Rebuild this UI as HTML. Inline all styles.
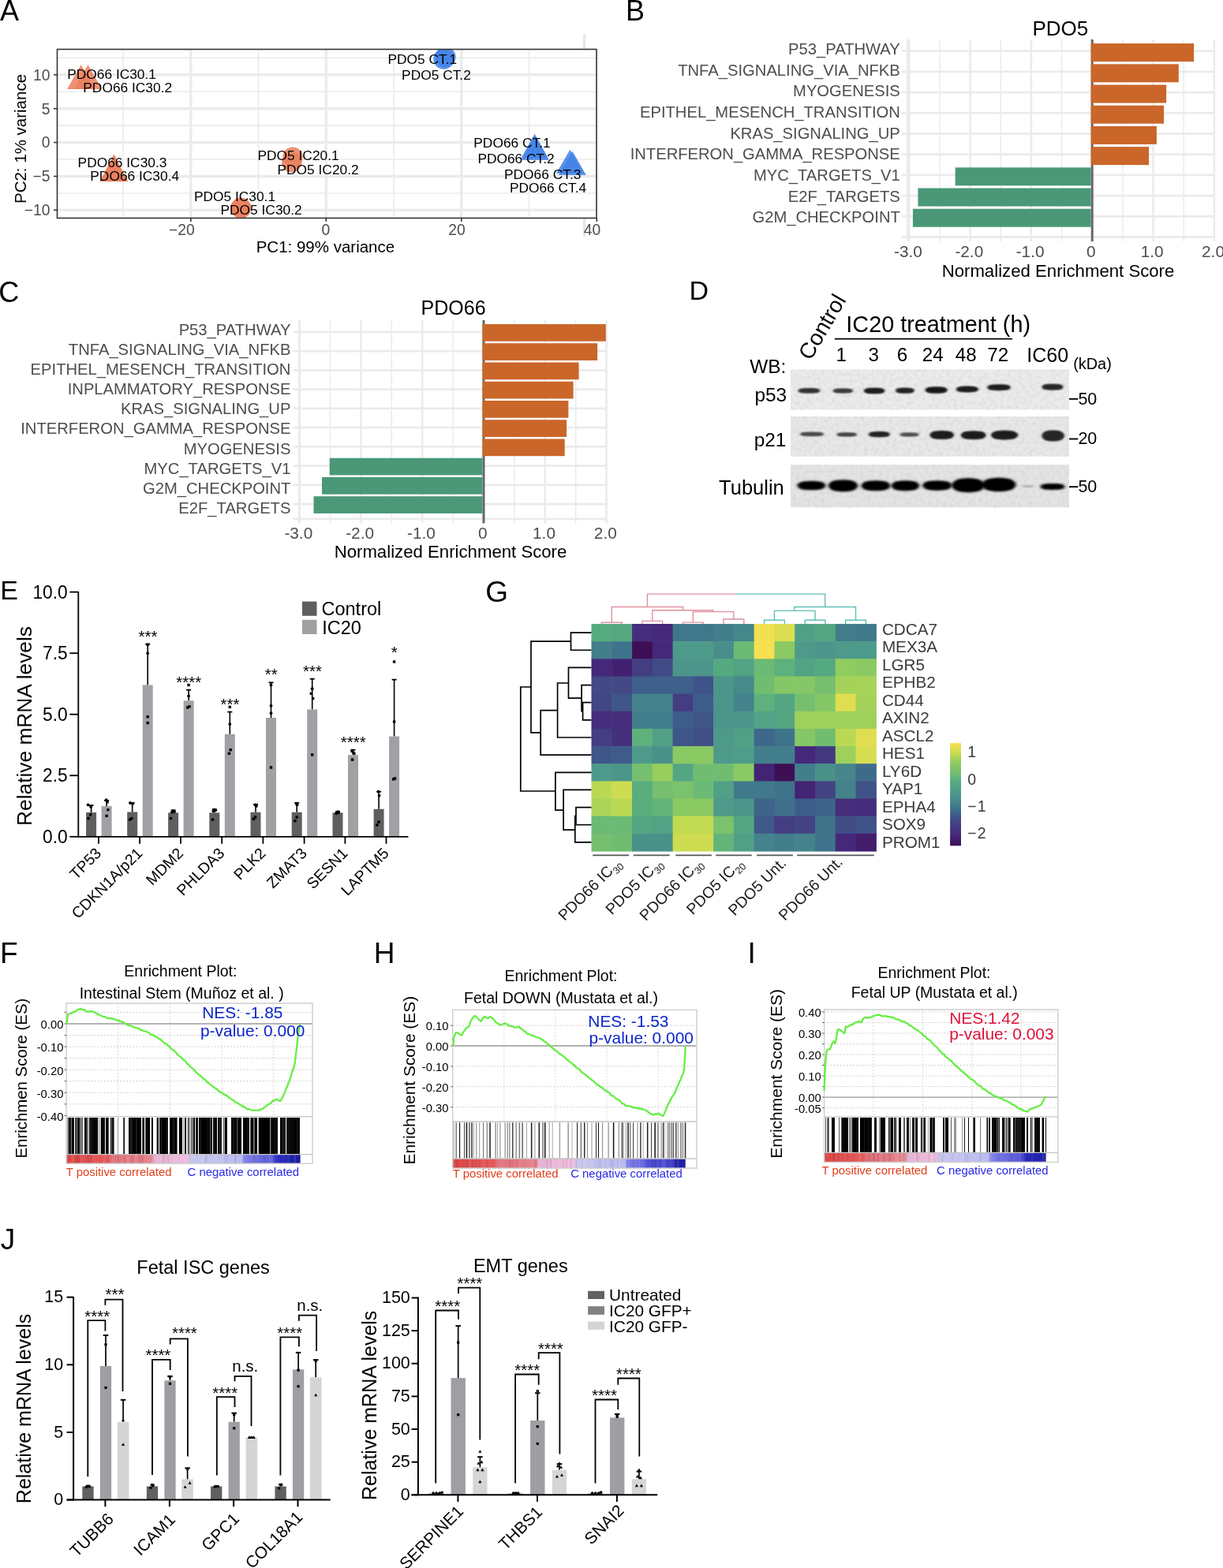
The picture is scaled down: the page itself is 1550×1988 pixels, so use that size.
<!DOCTYPE html>
<html><head><meta charset="utf-8"><title>Figure</title>
<style>html,body{margin:0;padding:0;background:#fff;}svg{display:block;}
text{font-family:"Liberation Sans", Arial, Helvetica, sans-serif;}</style></head>
<body><svg width="1550" height="1988" viewBox="0 0 1550 1988">
<rect x="0" y="0" width="1550" height="1988" fill="#fff"/>
<rect x="739.00" y="43.00" width="3.20" height="257.00" fill="#e6e6e6"/>
<rect x="72.50" y="62.50" width="683.50" height="214.00" fill="#fff"/>
<line x1="156.05" y1="62.50" x2="156.05" y2="276.50" stroke="#ebebeb" stroke-width="1.6"/>
<line x1="327.55" y1="62.50" x2="327.55" y2="276.50" stroke="#ebebeb" stroke-width="1.6"/>
<line x1="499.05" y1="62.50" x2="499.05" y2="276.50" stroke="#ebebeb" stroke-width="1.6"/>
<line x1="670.55" y1="62.50" x2="670.55" y2="276.50" stroke="#ebebeb" stroke-width="1.6"/>
<line x1="72.50" y1="244.95" x2="756.00" y2="244.95" stroke="#ebebeb" stroke-width="1.6"/>
<line x1="72.50" y1="202.05" x2="756.00" y2="202.05" stroke="#ebebeb" stroke-width="1.6"/>
<line x1="72.50" y1="159.15" x2="756.00" y2="159.15" stroke="#ebebeb" stroke-width="1.6"/>
<line x1="72.50" y1="116.25" x2="756.00" y2="116.25" stroke="#ebebeb" stroke-width="1.6"/>
<line x1="72.50" y1="73.35" x2="756.00" y2="73.35" stroke="#ebebeb" stroke-width="1.6"/>
<line x1="241.80" y1="62.50" x2="241.80" y2="276.50" stroke="#ebebeb" stroke-width="3.4"/>
<line x1="413.30" y1="62.50" x2="413.30" y2="276.50" stroke="#ebebeb" stroke-width="3.4"/>
<line x1="584.80" y1="62.50" x2="584.80" y2="276.50" stroke="#ebebeb" stroke-width="3.4"/>
<line x1="72.50" y1="266.40" x2="756.00" y2="266.40" stroke="#ebebeb" stroke-width="3.4"/>
<line x1="72.50" y1="223.50" x2="756.00" y2="223.50" stroke="#ebebeb" stroke-width="3.4"/>
<line x1="72.50" y1="180.60" x2="756.00" y2="180.60" stroke="#ebebeb" stroke-width="3.4"/>
<line x1="72.50" y1="137.70" x2="756.00" y2="137.70" stroke="#ebebeb" stroke-width="3.4"/>
<line x1="72.50" y1="94.80" x2="756.00" y2="94.80" stroke="#ebebeb" stroke-width="3.4"/>
<defs><clipPath id="clipA"><rect x="72.50" y="62.50" width="683.50" height="214.00"/></clipPath></defs><g clip-path="url(#clipA)">
<polyline points="102.70,82.00 85.00,113.00 120.40,113.00 102.70,82.00" fill="#ea7f5c" stroke="none" stroke-width="1" fill-opacity="0.85"/>
<polyline points="111.50,82.00 93.80,113.00 129.20,113.00 111.50,82.00" fill="#ea7f5c" stroke="none" stroke-width="1" fill-opacity="0.85"/>
<polyline points="144.20,195.40 126.60,230.20 161.80,230.20 144.20,195.40" fill="#ea7f5c" stroke="none" stroke-width="1" fill-opacity="0.85"/>
<polyline points="144.80,196.60 127.30,230.00 162.30,230.00 144.80,196.60" fill="#ea7f5c" stroke="none" stroke-width="1" fill-opacity="0.85"/>
<circle cx="305.10" cy="263.60" r="12.85" fill="#ea7f5c" fill-opacity="0.85"/>
<circle cx="305.50" cy="263.80" r="12.85" fill="#ea7f5c" fill-opacity="0.85"/>
<circle cx="371.00" cy="199.30" r="12.80" fill="#ea7f5c" fill-opacity="0.85"/>
<circle cx="369.80" cy="205.60" r="12.80" fill="#ea7f5c" fill-opacity="0.85"/>
<circle cx="562.30" cy="74.80" r="13.00" fill="#4283e6" fill-opacity="0.85"/>
<circle cx="564.60" cy="72.30" r="13.00" fill="#4283e6" fill-opacity="0.85"/>
<polyline points="677.60,169.80 660.20,200.80 695.00,200.80 677.60,169.80" fill="#4283e6" stroke="none" stroke-width="1" fill-opacity="0.85"/>
<polyline points="678.20,171.80 660.80,202.90 695.60,202.90 678.20,171.80" fill="#4283e6" stroke="none" stroke-width="1" fill-opacity="0.85"/>
<polyline points="722.40,189.70 704.80,220.00 740.00,220.00 722.40,189.70" fill="#4283e6" stroke="none" stroke-width="1" fill-opacity="0.85"/>
<polyline points="725.40,191.60 707.90,221.90 742.90,221.90 725.40,191.60" fill="#4283e6" stroke="none" stroke-width="1" fill-opacity="0.85"/>
</g>
<text x="85.20" y="99.60" font-size="17.35">PDO66 IC30.1</text>
<text x="105.30" y="117.40" font-size="17.35">PDO66 IC30.2</text>
<text x="98.60" y="211.90" font-size="17.35">PDO66 IC30.3</text>
<text x="114.30" y="228.70" font-size="17.35">PDO66 IC30.4</text>
<text x="245.90" y="255.30" font-size="17.35">PDO5 IC30.1</text>
<text x="279.50" y="271.80" font-size="17.35">PDO5 IC30.2</text>
<text x="326.50" y="203.00" font-size="17.35">PDO5 IC20.1</text>
<text x="351.50" y="221.00" font-size="17.35">PDO5 IC20.2</text>
<text x="491.40" y="80.50" font-size="17.35">PDO5 CT.1</text>
<text x="509.10" y="100.80" font-size="17.35">PDO5 CT.2</text>
<text x="600.30" y="187.10" font-size="17.35">PDO66 CT.1</text>
<text x="605.40" y="206.70" font-size="17.35">PDO66 CT.2</text>
<text x="639.00" y="226.80" font-size="17.35">PDO66 CT.3</text>
<text x="645.90" y="244.20" font-size="17.35">PDO66 CT.4</text>
<rect x="72.50" y="62.50" width="683.50" height="214.00" fill="none" stroke="#333" stroke-width="1.6"/>
<line x1="68.00" y1="266.40" x2="72.50" y2="266.40" stroke="#333" stroke-width="1.6"/>
<text x="63.50" y="273.20" font-size="19.3" text-anchor="end" fill="#4d4d4d">−10</text>
<line x1="68.00" y1="223.50" x2="72.50" y2="223.50" stroke="#333" stroke-width="1.6"/>
<text x="63.50" y="230.30" font-size="19.3" text-anchor="end" fill="#4d4d4d">−5</text>
<line x1="68.00" y1="180.60" x2="72.50" y2="180.60" stroke="#333" stroke-width="1.6"/>
<text x="63.50" y="187.40" font-size="19.3" text-anchor="end" fill="#4d4d4d">0</text>
<line x1="68.00" y1="137.70" x2="72.50" y2="137.70" stroke="#333" stroke-width="1.6"/>
<text x="63.50" y="144.50" font-size="19.3" text-anchor="end" fill="#4d4d4d">5</text>
<line x1="68.00" y1="94.80" x2="72.50" y2="94.80" stroke="#333" stroke-width="1.6"/>
<text x="63.50" y="101.60" font-size="19.3" text-anchor="end" fill="#4d4d4d">10</text>
<line x1="241.80" y1="276.50" x2="241.80" y2="281.00" stroke="#333" stroke-width="1.6"/>
<text x="246.80" y="298.10" font-size="19.3" text-anchor="end" fill="#4d4d4d">−20</text>
<line x1="413.30" y1="276.50" x2="413.30" y2="281.00" stroke="#333" stroke-width="1.6"/>
<text x="418.30" y="298.10" font-size="19.3" text-anchor="end" fill="#4d4d4d">0</text>
<line x1="584.80" y1="276.50" x2="584.80" y2="281.00" stroke="#333" stroke-width="1.6"/>
<text x="589.80" y="298.10" font-size="19.3" text-anchor="end" fill="#4d4d4d">20</text>
<line x1="756.30" y1="276.50" x2="756.30" y2="281.00" stroke="#333" stroke-width="1.6"/>
<text x="761.30" y="298.10" font-size="19.3" text-anchor="end" fill="#4d4d4d">40</text>
<text x="412.40" y="319.80" font-size="20.5" text-anchor="middle">PC1: 99% variance</text>
<text x="33.40" y="176.00" font-size="20.5" text-anchor="middle" transform="rotate(-90 33.40 176.00)">PC2: 1% variance</text>
<text x="0.00" y="25.70" font-size="36">A</text>
<line x1="1190.95" y1="50.00" x2="1190.95" y2="306.00" stroke="#ebebeb" stroke-width="1.5"/>
<line x1="1268.25" y1="50.00" x2="1268.25" y2="306.00" stroke="#ebebeb" stroke-width="1.5"/>
<line x1="1345.55" y1="50.00" x2="1345.55" y2="306.00" stroke="#ebebeb" stroke-width="1.5"/>
<line x1="1422.85" y1="50.00" x2="1422.85" y2="306.00" stroke="#ebebeb" stroke-width="1.5"/>
<line x1="1500.15" y1="50.00" x2="1500.15" y2="306.00" stroke="#ebebeb" stroke-width="1.5"/>
<line x1="1152.30" y1="50.00" x2="1152.30" y2="306.00" stroke="#ebebeb" stroke-width="2.6"/>
<line x1="1229.60" y1="50.00" x2="1229.60" y2="306.00" stroke="#ebebeb" stroke-width="2.6"/>
<line x1="1306.90" y1="50.00" x2="1306.90" y2="306.00" stroke="#ebebeb" stroke-width="2.6"/>
<line x1="1461.50" y1="50.00" x2="1461.50" y2="306.00" stroke="#ebebeb" stroke-width="2.6"/>
<line x1="1538.80" y1="50.00" x2="1538.80" y2="306.00" stroke="#ebebeb" stroke-width="2.6"/>
<line x1="1142.80" y1="64.70" x2="1540.00" y2="64.70" stroke="#ebebeb" stroke-width="2.8"/>
<line x1="1142.80" y1="90.91" x2="1540.00" y2="90.91" stroke="#ebebeb" stroke-width="2.8"/>
<line x1="1142.80" y1="117.12" x2="1540.00" y2="117.12" stroke="#ebebeb" stroke-width="2.8"/>
<line x1="1142.80" y1="143.33" x2="1540.00" y2="143.33" stroke="#ebebeb" stroke-width="2.8"/>
<line x1="1142.80" y1="169.54" x2="1540.00" y2="169.54" stroke="#ebebeb" stroke-width="2.8"/>
<line x1="1142.80" y1="195.75" x2="1540.00" y2="195.75" stroke="#ebebeb" stroke-width="2.8"/>
<line x1="1142.80" y1="221.96" x2="1540.00" y2="221.96" stroke="#ebebeb" stroke-width="2.8"/>
<line x1="1142.80" y1="248.17" x2="1540.00" y2="248.17" stroke="#ebebeb" stroke-width="2.8"/>
<line x1="1142.80" y1="274.38" x2="1540.00" y2="274.38" stroke="#ebebeb" stroke-width="2.8"/>
<line x1="1142.80" y1="300.50" x2="1540.00" y2="300.50" stroke="#ebebeb" stroke-width="2.8"/>
<line x1="1150.30" y1="50.00" x2="1150.30" y2="306.00" stroke="#ebebeb" stroke-width="2.6"/>
<line x1="1384.20" y1="50.00" x2="1384.20" y2="306.00" stroke="#666" stroke-width="3"/>
<rect x="1382.60" y="55.10" width="130.54" height="23.00" fill="#ca6629"/>
<text x="1140.80" y="69.10" font-size="20.2" text-anchor="end" fill="#4d4d4d">P53_PATHWAY</text>
<rect x="1382.60" y="81.31" width="111.21" height="23.00" fill="#ca6629"/>
<text x="1140.80" y="95.75" font-size="20.2" text-anchor="end" fill="#4d4d4d">TNFA_SIGNALING_VIA_NFKB</text>
<rect x="1382.60" y="107.52" width="95.52" height="23.00" fill="#ca6629"/>
<text x="1140.80" y="122.40" font-size="20.2" text-anchor="end" fill="#4d4d4d">MYOGENESIS</text>
<rect x="1382.60" y="133.73" width="92.43" height="23.00" fill="#ca6629"/>
<text x="1140.80" y="149.05" font-size="20.2" text-anchor="end" fill="#4d4d4d">EPITHEL_MESENCH_TRANSITION</text>
<rect x="1382.60" y="159.94" width="83.31" height="23.00" fill="#ca6629"/>
<text x="1140.80" y="175.70" font-size="20.2" text-anchor="end" fill="#4d4d4d">KRAS_SIGNALING_UP</text>
<rect x="1382.60" y="186.15" width="73.49" height="23.00" fill="#ca6629"/>
<text x="1140.80" y="202.35" font-size="20.2" text-anchor="end" fill="#4d4d4d">INTERFERON_GAMMA_RESPONSE</text>
<rect x="1210.66" y="212.36" width="172.04" height="23.00" fill="#4a9878"/>
<text x="1140.80" y="229.00" font-size="20.2" text-anchor="end" fill="#4d4d4d">MYC_TARGETS_V1</text>
<rect x="1163.43" y="238.57" width="219.27" height="23.00" fill="#4a9878"/>
<text x="1140.80" y="255.65" font-size="20.2" text-anchor="end" fill="#4d4d4d">E2F_TARGETS</text>
<rect x="1156.94" y="264.78" width="225.76" height="23.00" fill="#4a9878"/>
<text x="1140.80" y="282.30" font-size="20.2" text-anchor="end" fill="#4d4d4d">G2M_CHECKPOINT</text>
<text x="1151.00" y="326.40" font-size="20.8" text-anchor="middle" fill="#4d4d4d">-3.0</text>
<text x="1228.30" y="326.40" font-size="20.8" text-anchor="middle" fill="#4d4d4d">-2.0</text>
<text x="1305.60" y="326.40" font-size="20.8" text-anchor="middle" fill="#4d4d4d">-1.0</text>
<text x="1382.90" y="326.40" font-size="20.8" text-anchor="middle" fill="#4d4d4d">0</text>
<text x="1460.20" y="326.40" font-size="20.8" text-anchor="middle" fill="#4d4d4d">1.0</text>
<text x="1537.50" y="326.40" font-size="20.8" text-anchor="middle" fill="#4d4d4d">2.0</text>
<text x="1341.00" y="351.30" font-size="22.2" text-anchor="middle">Normalized Enrichment Score</text>
<text x="1343.90" y="44.70" font-size="26" text-anchor="middle">PDO5</text>
<text x="793.00" y="25.70" font-size="36">B</text>
<line x1="418.50" y1="406.00" x2="418.50" y2="663.40" stroke="#ebebeb" stroke-width="1.5"/>
<line x1="496.30" y1="406.00" x2="496.30" y2="663.40" stroke="#ebebeb" stroke-width="1.5"/>
<line x1="574.10" y1="406.00" x2="574.10" y2="663.40" stroke="#ebebeb" stroke-width="1.5"/>
<line x1="651.90" y1="406.00" x2="651.90" y2="663.40" stroke="#ebebeb" stroke-width="1.5"/>
<line x1="729.70" y1="406.00" x2="729.70" y2="663.40" stroke="#ebebeb" stroke-width="1.5"/>
<line x1="379.60" y1="406.00" x2="379.60" y2="663.40" stroke="#ebebeb" stroke-width="2.6"/>
<line x1="457.40" y1="406.00" x2="457.40" y2="663.40" stroke="#ebebeb" stroke-width="2.6"/>
<line x1="535.20" y1="406.00" x2="535.20" y2="663.40" stroke="#ebebeb" stroke-width="2.6"/>
<line x1="690.80" y1="406.00" x2="690.80" y2="663.40" stroke="#ebebeb" stroke-width="2.6"/>
<line x1="768.60" y1="406.00" x2="768.60" y2="663.40" stroke="#ebebeb" stroke-width="2.6"/>
<line x1="371.60" y1="420.80" x2="769.80" y2="420.80" stroke="#ebebeb" stroke-width="2.8"/>
<line x1="371.60" y1="445.05" x2="769.80" y2="445.05" stroke="#ebebeb" stroke-width="2.8"/>
<line x1="371.60" y1="469.30" x2="769.80" y2="469.30" stroke="#ebebeb" stroke-width="2.8"/>
<line x1="371.60" y1="493.55" x2="769.80" y2="493.55" stroke="#ebebeb" stroke-width="2.8"/>
<line x1="371.60" y1="517.80" x2="769.80" y2="517.80" stroke="#ebebeb" stroke-width="2.8"/>
<line x1="371.60" y1="542.05" x2="769.80" y2="542.05" stroke="#ebebeb" stroke-width="2.8"/>
<line x1="371.60" y1="566.30" x2="769.80" y2="566.30" stroke="#ebebeb" stroke-width="2.8"/>
<line x1="371.60" y1="590.55" x2="769.80" y2="590.55" stroke="#ebebeb" stroke-width="2.8"/>
<line x1="371.60" y1="614.80" x2="769.80" y2="614.80" stroke="#ebebeb" stroke-width="2.8"/>
<line x1="371.60" y1="639.05" x2="769.80" y2="639.05" stroke="#ebebeb" stroke-width="2.8"/>
<line x1="371.60" y1="657.90" x2="769.80" y2="657.90" stroke="#ebebeb" stroke-width="2.8"/>
<line x1="379.10" y1="406.00" x2="379.10" y2="663.40" stroke="#ebebeb" stroke-width="2.6"/>
<line x1="613.00" y1="406.00" x2="613.00" y2="663.40" stroke="#666" stroke-width="3"/>
<rect x="611.40" y="411.00" width="156.42" height="21.70" fill="#ca6629"/>
<text x="368.40" y="425.10" font-size="20.2" text-anchor="end" fill="#4d4d4d">P53_PATHWAY</text>
<rect x="611.40" y="435.25" width="145.76" height="21.70" fill="#ca6629"/>
<text x="368.40" y="450.17" font-size="20.2" text-anchor="end" fill="#4d4d4d">TNFA_SIGNALING_VIA_NFKB</text>
<rect x="611.40" y="459.50" width="122.19" height="21.70" fill="#ca6629"/>
<text x="368.40" y="475.24" font-size="20.2" text-anchor="end" fill="#4d4d4d">EPITHEL_MESENCH_TRANSITION</text>
<rect x="611.40" y="483.75" width="115.19" height="21.70" fill="#ca6629"/>
<text x="368.40" y="500.31" font-size="20.2" text-anchor="end" fill="#4d4d4d">INPLAMMATORY_RESPONSE</text>
<rect x="611.40" y="508.00" width="108.96" height="21.70" fill="#ca6629"/>
<text x="368.40" y="525.38" font-size="20.2" text-anchor="end" fill="#4d4d4d">KRAS_SIGNALING_UP</text>
<rect x="611.40" y="532.25" width="106.63" height="21.70" fill="#ca6629"/>
<text x="368.40" y="550.45" font-size="20.2" text-anchor="end" fill="#4d4d4d">INTERFERON_GAMMA_RESPONSE</text>
<rect x="611.40" y="556.50" width="104.30" height="21.70" fill="#ca6629"/>
<text x="368.40" y="575.52" font-size="20.2" text-anchor="end" fill="#4d4d4d">MYOGENESIS</text>
<rect x="417.72" y="580.75" width="193.78" height="21.70" fill="#4a9878"/>
<text x="368.40" y="600.59" font-size="20.2" text-anchor="end" fill="#4d4d4d">MYC_TARGETS_V1</text>
<rect x="408.00" y="605.00" width="203.50" height="21.70" fill="#4a9878"/>
<text x="368.40" y="625.66" font-size="20.2" text-anchor="end" fill="#4d4d4d">G2M_CHECKPOINT</text>
<rect x="397.49" y="629.25" width="214.01" height="21.70" fill="#4a9878"/>
<text x="368.40" y="650.73" font-size="20.2" text-anchor="end" fill="#4d4d4d">E2F_TARGETS</text>
<text x="378.30" y="682.60" font-size="20.8" text-anchor="middle" fill="#4d4d4d">-3.0</text>
<text x="456.10" y="682.60" font-size="20.8" text-anchor="middle" fill="#4d4d4d">-2.0</text>
<text x="533.90" y="682.60" font-size="20.8" text-anchor="middle" fill="#4d4d4d">-1.0</text>
<text x="611.70" y="682.60" font-size="20.8" text-anchor="middle" fill="#4d4d4d">0</text>
<text x="689.50" y="682.60" font-size="20.8" text-anchor="middle" fill="#4d4d4d">1.0</text>
<text x="767.30" y="682.60" font-size="20.8" text-anchor="middle" fill="#4d4d4d">2.0</text>
<text x="571.00" y="707.20" font-size="22.2" text-anchor="middle">Normalized Enrichment Score</text>
<text x="574.60" y="399.10" font-size="25" text-anchor="middle">PDO66</text>
<text x="-1.80" y="382.90" font-size="36">C</text>
<text x="873.60" y="379.80" font-size="34">D</text>
<defs><filter id="bl1" x="-30%" y="-80%" width="160%" height="260%"><feGaussianBlur stdDeviation="1.8 1.0"/></filter><filter id="bl2" x="-30%" y="-80%" width="160%" height="260%"><feGaussianBlur stdDeviation="2.0 1.5"/></filter><filter id="noise" x="0" y="0" width="100%" height="100%"><feTurbulence type="fractalNoise" baseFrequency="0.22" numOctaves="2" seed="3"/><feColorMatrix type="matrix" values="0 0 0 0 0.4  0 0 0 0 0.4  0 0 0 0 0.4  0 0 0 -0.45 0.27"/></filter></defs>
<rect x="1002.00" y="468.40" width="353.00" height="50.90" fill="#ebebeb"/>
<rect x="1002.00" y="468.40" width="353.00" height="50.90" fill="#000" filter="url(#noise)"/>
<rect x="1002.00" y="528.00" width="353.00" height="50.70" fill="#e8e8e8"/>
<rect x="1002.00" y="528.00" width="353.00" height="50.70" fill="#000" filter="url(#noise)"/>
<rect x="1002.00" y="589.20" width="353.00" height="54.00" fill="#e4e4e4"/>
<rect x="1002.00" y="589.20" width="353.00" height="54.00" fill="#000" filter="url(#noise)"/>
<ellipse cx="1025.45" cy="495.30" rx="14.20" ry="2.94" fill="#333333" filter="url(#bl1)"/>
<rect x="1013.24" y="493.07" width="24.42" height="4.47" rx="2.23" fill="#333333" filter="url(#bl1)"/>
<ellipse cx="1068.40" cy="495.50" rx="12.95" ry="2.73" fill="#3a3a3a" filter="url(#bl1)"/>
<rect x="1057.26" y="493.43" width="22.27" height="4.15" rx="2.07" fill="#3a3a3a" filter="url(#bl1)"/>
<ellipse cx="1108.10" cy="495.50" rx="13.35" ry="3.57" fill="#1a1a1a" filter="url(#bl1)"/>
<rect x="1096.62" y="492.79" width="22.96" height="5.43" rx="2.71" fill="#1a1a1a" filter="url(#bl1)"/>
<ellipse cx="1146.95" cy="495.20" rx="12.00" ry="3.36" fill="#222222" filter="url(#bl1)"/>
<rect x="1136.63" y="492.65" width="20.64" height="5.11" rx="2.55" fill="#222222" filter="url(#bl1)"/>
<ellipse cx="1186.60" cy="494.50" rx="14.15" ry="3.99" fill="#161616" filter="url(#bl1)"/>
<rect x="1174.43" y="491.47" width="24.34" height="6.06" rx="3.03" fill="#161616" filter="url(#bl1)"/>
<ellipse cx="1225.95" cy="493.50" rx="14.20" ry="3.68" fill="#1a1a1a" filter="url(#bl1)"/>
<rect x="1213.74" y="490.71" width="24.42" height="5.59" rx="2.79" fill="#1a1a1a" filter="url(#bl1)"/>
<ellipse cx="1265.95" cy="491.20" rx="14.80" ry="3.68" fill="#1e1e1e" filter="url(#bl1)"/>
<rect x="1253.22" y="488.41" width="25.46" height="5.59" rx="2.79" fill="#1e1e1e" filter="url(#bl1)"/>
<ellipse cx="1334.00" cy="490.70" rx="13.55" ry="3.78" fill="#262626" filter="url(#bl1)"/>
<rect x="1322.35" y="487.83" width="23.31" height="5.75" rx="2.87" fill="#262626" filter="url(#bl1)"/>
<ellipse cx="1029.00" cy="550.40" rx="15.35" ry="2.42" fill="#4a4a4a" filter="url(#bl1)"/>
<rect x="1015.80" y="548.56" width="26.40" height="3.67" rx="1.84" fill="#4a4a4a" filter="url(#bl1)"/>
<ellipse cx="1073.20" cy="550.90" rx="12.95" ry="2.31" fill="#444" filter="url(#bl1)"/>
<rect x="1062.06" y="549.14" width="22.27" height="3.51" rx="1.76" fill="#444" filter="url(#bl1)"/>
<ellipse cx="1114.35" cy="550.70" rx="13.60" ry="3.36" fill="#242424" filter="url(#bl1)"/>
<rect x="1102.65" y="548.15" width="23.39" height="5.11" rx="2.55" fill="#242424" filter="url(#bl1)"/>
<ellipse cx="1152.55" cy="551.00" rx="12.40" ry="2.21" fill="#505050" filter="url(#bl1)"/>
<rect x="1141.89" y="549.32" width="21.33" height="3.35" rx="1.68" fill="#505050" filter="url(#bl1)"/>
<ellipse cx="1193.70" cy="551.50" rx="15.35" ry="5.25" fill="#1a1a1a" filter="url(#bl1)"/>
<rect x="1180.50" y="547.51" width="26.40" height="7.98" rx="3.99" fill="#1a1a1a" filter="url(#bl1)"/>
<ellipse cx="1233.70" cy="551.70" rx="15.95" ry="5.25" fill="#1c1c1c" filter="url(#bl1)"/>
<rect x="1219.98" y="547.71" width="27.43" height="7.98" rx="3.99" fill="#1c1c1c" filter="url(#bl1)"/>
<ellipse cx="1273.10" cy="551.60" rx="17.15" ry="5.78" fill="#1e1e1e" filter="url(#bl1)"/>
<rect x="1258.35" y="547.21" width="29.50" height="8.78" rx="4.39" fill="#1e1e1e" filter="url(#bl1)"/>
<ellipse cx="1334.60" cy="552.50" rx="14.15" ry="7.09" fill="#262626" filter="url(#bl1)"/>
<rect x="1322.43" y="547.11" width="24.34" height="10.77" rx="5.39" fill="#262626" filter="url(#bl1)"/>
<ellipse cx="1028.40" cy="615.60" rx="17.90" ry="5.51" fill="#050505" filter="url(#bl2)"/>
<rect x="1013.01" y="611.41" width="30.79" height="8.38" rx="4.19" fill="#050505" filter="url(#bl2)"/>
<ellipse cx="1068.50" cy="615.80" rx="18.50" ry="7.35" fill="#030303" filter="url(#bl2)"/>
<rect x="1052.59" y="610.21" width="31.82" height="11.17" rx="5.59" fill="#030303" filter="url(#bl2)"/>
<ellipse cx="1109.95" cy="615.80" rx="18.25" ry="6.30" fill="#040404" filter="url(#bl2)"/>
<rect x="1094.26" y="611.01" width="31.39" height="9.58" rx="4.79" fill="#040404" filter="url(#bl2)"/>
<ellipse cx="1147.45" cy="615.80" rx="17.55" ry="6.30" fill="#040404" filter="url(#bl2)"/>
<rect x="1132.36" y="611.01" width="30.19" height="9.58" rx="4.79" fill="#040404" filter="url(#bl2)"/>
<ellipse cx="1187.80" cy="615.60" rx="18.50" ry="6.04" fill="#050505" filter="url(#bl2)"/>
<rect x="1171.89" y="611.01" width="31.82" height="9.18" rx="4.59" fill="#050505" filter="url(#bl2)"/>
<ellipse cx="1227.15" cy="615.20" rx="20.85" ry="8.93" fill="#000" filter="url(#bl2)"/>
<rect x="1209.22" y="608.42" width="35.86" height="13.57" rx="6.78" fill="#000" filter="url(#bl2)"/>
<ellipse cx="1265.95" cy="614.50" rx="21.45" ry="8.66" fill="#000" filter="url(#bl2)"/>
<rect x="1247.50" y="607.92" width="36.89" height="13.17" rx="6.58" fill="#000" filter="url(#bl2)"/>
<ellipse cx="1334.00" cy="617.00" rx="15.50" ry="3.57" fill="#000" filter="url(#bl2)"/>
<rect x="1320.67" y="614.29" width="26.66" height="5.43" rx="2.71" fill="#000" filter="url(#bl2)"/>
<ellipse cx="1303" cy="616.5" rx="8" ry="0.9" fill="#9a9a9a" filter="url(#bl1)"/>
<text x="996.40" y="473.20" font-size="24.4" text-anchor="end">WB:</text>
<text x="997.20" y="508.90" font-size="24.4" text-anchor="end">p53</text>
<text x="996.40" y="565.80" font-size="24.4" text-anchor="end">p21</text>
<text x="993.80" y="627.10" font-size="25.5" text-anchor="end">Tubulin</text>
<text x="1027.30" y="458.20" font-size="28" transform="rotate(-59.5 1027.30 458.20)">Control</text>
<text x="1189.20" y="420.60" font-size="28.8" text-anchor="middle">IC20 treatment (h)</text>
<line x1="1057.80" y1="429.60" x2="1283.00" y2="429.60" stroke="#000" stroke-width="1.6"/>
<text x="1066.30" y="458.20" font-size="24.2" text-anchor="middle">1</text>
<text x="1107.20" y="458.20" font-size="24.2" text-anchor="middle">3</text>
<text x="1143.60" y="458.20" font-size="24.2" text-anchor="middle">6</text>
<text x="1182.20" y="458.20" font-size="24.2" text-anchor="middle">24</text>
<text x="1224.20" y="458.20" font-size="24.2" text-anchor="middle">48</text>
<text x="1264.80" y="458.20" font-size="24.2" text-anchor="middle">72</text>
<text x="1327.70" y="458.50" font-size="25" text-anchor="middle">IC60</text>
<text x="1360.20" y="468.40" font-size="19.9">(kDa)</text>
<line x1="1355.00" y1="505.80" x2="1366.30" y2="505.80" stroke="#000" stroke-width="1.9"/>
<text x="1366.40" y="512.60" font-size="21.5">50</text>
<line x1="1355.00" y1="556.50" x2="1366.30" y2="556.50" stroke="#000" stroke-width="1.9"/>
<text x="1366.40" y="563.30" font-size="21.5">20</text>
<line x1="1355.00" y1="617.20" x2="1366.30" y2="617.20" stroke="#000" stroke-width="1.9"/>
<text x="1366.40" y="624.00" font-size="21.5">50</text>
<text x="0.20" y="760.30" font-size="34">E</text>
<line x1="115.60" y1="1030.09" x2="115.60" y2="1021.09" stroke="#000" stroke-width="1.6"/>
<line x1="112.60" y1="1021.09" x2="118.60" y2="1021.09" stroke="#000" stroke-width="1.8"/>
<line x1="135.10" y1="1022.02" x2="135.10" y2="1014.89" stroke="#000" stroke-width="1.6"/>
<line x1="132.10" y1="1014.89" x2="138.10" y2="1014.89" stroke="#000" stroke-width="1.8"/>
<rect x="109.10" y="1030.09" width="13.00" height="30.71" fill="#5f5f5f"/>
<rect x="128.60" y="1022.02" width="13.00" height="38.77" fill="#a1a0a5"/>
<circle cx="115.15" cy="1022.96" r="1.90" fill="#000"/>
<circle cx="112.00" cy="1037.53" r="1.90" fill="#000"/>
<circle cx="114.70" cy="1032.88" r="1.90" fill="#000"/>
<circle cx="111.55" cy="1020.47" r="1.90" fill="#000"/>
<circle cx="136.00" cy="1016.75" r="1.90" fill="#000"/>
<rect x="133.40" y="1032.73" width="3.40" height="3.40" fill="#000"/>
<circle cx="134.65" cy="1014.27" r="1.90" fill="#000"/>
<circle cx="136.90" cy="1026.68" r="1.90" fill="#000"/>
<line x1="125.00" y1="1060.80" x2="125.00" y2="1069.80" stroke="#000" stroke-width="1.8"/>
<line x1="167.70" y1="1029.47" x2="167.70" y2="1017.99" stroke="#000" stroke-width="1.6"/>
<line x1="164.70" y1="1017.99" x2="170.70" y2="1017.99" stroke="#000" stroke-width="1.8"/>
<line x1="187.20" y1="868.48" x2="187.20" y2="816.67" stroke="#000" stroke-width="1.6"/>
<line x1="184.20" y1="816.67" x2="190.20" y2="816.67" stroke="#000" stroke-width="1.8"/>
<rect x="161.20" y="1029.47" width="13.00" height="31.33" fill="#5f5f5f"/>
<rect x="180.70" y="868.48" width="13.00" height="192.32" fill="#a1a0a5"/>
<circle cx="164.55" cy="1039.09" r="1.90" fill="#000"/>
<circle cx="166.80" cy="1037.53" r="1.90" fill="#000"/>
<circle cx="165.00" cy="1017.99" r="1.90" fill="#000"/>
<circle cx="168.15" cy="1018.92" r="1.90" fill="#000"/>
<circle cx="187.20" cy="828.15" r="1.90" fill="#000"/>
<rect x="185.50" y="907.10" width="3.40" height="3.40" fill="#000"/>
<rect x="185.50" y="914.86" width="3.40" height="3.40" fill="#000"/>
<rect x="185.50" y="815.59" width="3.40" height="3.40" fill="#000"/>
<text x="187.40" y="813.67" font-size="20.5" text-anchor="middle">***</text>
<line x1="177.10" y1="1060.80" x2="177.10" y2="1069.80" stroke="#000" stroke-width="1.8"/>
<line x1="219.60" y1="1030.40" x2="219.60" y2="1027.30" stroke="#000" stroke-width="1.6"/>
<line x1="216.60" y1="1027.30" x2="222.60" y2="1027.30" stroke="#000" stroke-width="1.8"/>
<line x1="239.10" y1="888.33" x2="239.10" y2="874.68" stroke="#000" stroke-width="1.6"/>
<line x1="236.10" y1="874.68" x2="242.10" y2="874.68" stroke="#000" stroke-width="1.8"/>
<rect x="213.10" y="1030.40" width="13.00" height="30.40" fill="#5f5f5f"/>
<rect x="232.60" y="888.33" width="13.00" height="172.47" fill="#a1a0a5"/>
<circle cx="216.45" cy="1037.53" r="1.90" fill="#000"/>
<circle cx="217.80" cy="1029.78" r="1.90" fill="#000"/>
<circle cx="219.60" cy="1028.23" r="1.90" fill="#000"/>
<circle cx="220.95" cy="1029.16" r="1.90" fill="#000"/>
<rect x="237.40" y="866.78" width="3.40" height="3.40" fill="#000"/>
<circle cx="239.10" cy="882.43" r="1.90" fill="#000"/>
<rect x="236.05" y="895.31" width="3.40" height="3.40" fill="#000"/>
<rect x="238.30" y="894.07" width="3.40" height="3.40" fill="#000"/>
<text x="239.30" y="871.68" font-size="20.5" text-anchor="middle">****</text>
<line x1="229.00" y1="1060.80" x2="229.00" y2="1069.80" stroke="#000" stroke-width="1.8"/>
<line x1="271.80" y1="1030.40" x2="271.80" y2="1026.06" stroke="#000" stroke-width="1.6"/>
<line x1="268.80" y1="1026.06" x2="274.80" y2="1026.06" stroke="#000" stroke-width="1.8"/>
<line x1="291.30" y1="930.83" x2="291.30" y2="902.60" stroke="#000" stroke-width="1.6"/>
<line x1="288.30" y1="902.60" x2="294.30" y2="902.60" stroke="#000" stroke-width="1.8"/>
<rect x="265.30" y="1030.40" width="13.00" height="30.40" fill="#5f5f5f"/>
<rect x="284.80" y="930.83" width="13.00" height="129.97" fill="#a1a0a5"/>
<circle cx="269.55" cy="1039.09" r="1.90" fill="#000"/>
<circle cx="270.45" cy="1028.23" r="1.90" fill="#000"/>
<circle cx="271.80" cy="1026.68" r="1.90" fill="#000"/>
<circle cx="273.15" cy="1027.30" r="1.90" fill="#000"/>
<rect x="289.60" y="894.69" width="3.40" height="3.40" fill="#000"/>
<circle cx="291.30" cy="918.11" r="1.90" fill="#000"/>
<rect x="288.70" y="953.63" width="3.40" height="3.40" fill="#000"/>
<rect x="290.50" y="948.98" width="3.40" height="3.40" fill="#000"/>
<text x="291.50" y="899.60" font-size="20.5" text-anchor="middle">***</text>
<line x1="281.20" y1="1060.80" x2="281.20" y2="1069.80" stroke="#000" stroke-width="1.8"/>
<line x1="324.00" y1="1029.78" x2="324.00" y2="1019.85" stroke="#000" stroke-width="1.6"/>
<line x1="321.00" y1="1019.85" x2="327.00" y2="1019.85" stroke="#000" stroke-width="1.8"/>
<line x1="343.50" y1="910.04" x2="343.50" y2="865.37" stroke="#000" stroke-width="1.6"/>
<line x1="340.50" y1="865.37" x2="346.50" y2="865.37" stroke="#000" stroke-width="1.8"/>
<rect x="317.50" y="1029.78" width="13.00" height="31.02" fill="#5f5f5f"/>
<rect x="337.00" y="910.04" width="13.00" height="150.76" fill="#a1a0a5"/>
<circle cx="321.30" cy="1038.47" r="1.90" fill="#000"/>
<circle cx="323.55" cy="1035.98" r="1.90" fill="#000"/>
<circle cx="323.55" cy="1020.47" r="1.90" fill="#000"/>
<circle cx="324.90" cy="1022.02" r="1.90" fill="#000"/>
<circle cx="343.50" cy="868.48" r="1.90" fill="#000"/>
<circle cx="343.50" cy="894.84" r="1.90" fill="#000"/>
<circle cx="343.50" cy="904.15" r="1.90" fill="#000"/>
<rect x="341.80" y="971.31" width="3.40" height="3.40" fill="#000"/>
<text x="343.70" y="862.37" font-size="20.5" text-anchor="middle">**</text>
<line x1="333.40" y1="1060.80" x2="333.40" y2="1069.80" stroke="#000" stroke-width="1.8"/>
<line x1="376.20" y1="1029.78" x2="376.20" y2="1017.99" stroke="#000" stroke-width="1.6"/>
<line x1="373.20" y1="1017.99" x2="379.20" y2="1017.99" stroke="#000" stroke-width="1.8"/>
<line x1="395.70" y1="899.50" x2="395.70" y2="860.72" stroke="#000" stroke-width="1.6"/>
<line x1="392.70" y1="860.72" x2="398.70" y2="860.72" stroke="#000" stroke-width="1.8"/>
<rect x="369.70" y="1029.78" width="13.00" height="31.02" fill="#5f5f5f"/>
<rect x="389.20" y="899.50" width="13.00" height="161.30" fill="#a1a0a5"/>
<circle cx="373.95" cy="1040.64" r="1.90" fill="#000"/>
<circle cx="376.20" cy="1035.98" r="1.90" fill="#000"/>
<circle cx="375.75" cy="1018.92" r="1.90" fill="#000"/>
<circle cx="376.65" cy="1020.47" r="1.90" fill="#000"/>
<circle cx="395.70" cy="873.13" r="1.90" fill="#000"/>
<rect x="392.65" y="877.63" width="3.40" height="3.40" fill="#000"/>
<rect x="394.90" y="883.84" width="3.40" height="3.40" fill="#000"/>
<rect x="394.00" y="955.18" width="3.40" height="3.40" fill="#000"/>
<text x="395.90" y="857.72" font-size="20.5" text-anchor="middle">***</text>
<line x1="385.60" y1="1060.80" x2="385.60" y2="1069.80" stroke="#000" stroke-width="1.8"/>
<line x1="428.00" y1="1030.40" x2="428.00" y2="1029.16" stroke="#000" stroke-width="1.6"/>
<line x1="425.00" y1="1029.16" x2="431.00" y2="1029.16" stroke="#000" stroke-width="1.8"/>
<line x1="447.50" y1="957.19" x2="447.50" y2="950.68" stroke="#000" stroke-width="1.6"/>
<line x1="444.50" y1="950.68" x2="450.50" y2="950.68" stroke="#000" stroke-width="1.8"/>
<rect x="421.50" y="1030.40" width="13.00" height="30.40" fill="#5f5f5f"/>
<rect x="441.00" y="957.19" width="13.00" height="103.61" fill="#a1a0a5"/>
<circle cx="426.20" cy="1031.33" r="1.90" fill="#000"/>
<circle cx="427.10" cy="1029.78" r="1.90" fill="#000"/>
<circle cx="428.45" cy="1029.16" r="1.90" fill="#000"/>
<circle cx="428.90" cy="1030.40" r="1.90" fill="#000"/>
<rect x="444.45" y="950.53" width="3.40" height="3.40" fill="#000"/>
<circle cx="447.50" cy="953.78" r="1.90" fill="#000"/>
<rect x="447.15" y="953.63" width="3.40" height="3.40" fill="#000"/>
<rect x="444.90" y="961.39" width="3.40" height="3.40" fill="#000"/>
<text x="447.70" y="947.68" font-size="20.5" text-anchor="middle">****</text>
<line x1="437.40" y1="1060.80" x2="437.40" y2="1069.80" stroke="#000" stroke-width="1.8"/>
<line x1="480.10" y1="1025.75" x2="480.10" y2="1003.72" stroke="#000" stroke-width="1.6"/>
<line x1="477.10" y1="1003.72" x2="483.10" y2="1003.72" stroke="#000" stroke-width="1.8"/>
<line x1="499.60" y1="933.62" x2="499.60" y2="861.65" stroke="#000" stroke-width="1.6"/>
<line x1="496.60" y1="861.65" x2="502.60" y2="861.65" stroke="#000" stroke-width="1.8"/>
<rect x="473.60" y="1025.75" width="13.00" height="35.05" fill="#5f5f5f"/>
<rect x="493.10" y="933.62" width="13.00" height="127.18" fill="#a1a0a5"/>
<circle cx="477.85" cy="1045.91" r="1.90" fill="#000"/>
<circle cx="480.10" cy="1042.19" r="1.90" fill="#000"/>
<circle cx="480.55" cy="1008.69" r="1.90" fill="#000"/>
<circle cx="479.65" cy="1003.72" r="1.90" fill="#000"/>
<rect x="497.90" y="837.31" width="3.40" height="3.40" fill="#000"/>
<circle cx="499.60" cy="915.01" r="1.90" fill="#000"/>
<rect x="497.00" y="986.20" width="3.40" height="3.40" fill="#000"/>
<rect x="498.80" y="985.27" width="3.40" height="3.40" fill="#000"/>
<text x="499.80" y="834.01" font-size="20.5" text-anchor="middle">*</text>
<line x1="489.50" y1="1060.80" x2="489.50" y2="1069.80" stroke="#000" stroke-width="1.8"/>
<line x1="99.30" y1="750.00" x2="99.30" y2="1061.70" stroke="#000" stroke-width="1.8"/>
<line x1="98.40" y1="1060.80" x2="517.50" y2="1060.80" stroke="#000" stroke-width="1.8"/>
<line x1="88.30" y1="1060.80" x2="99.30" y2="1060.80" stroke="#000" stroke-width="1.8"/>
<text x="0.00" y="0.00" font-size="24.8" text-anchor="end" transform="translate(85.80 1068.80) scale(0.92 1)">0.0</text>
<line x1="88.30" y1="983.25" x2="99.30" y2="983.25" stroke="#000" stroke-width="1.8"/>
<text x="0.00" y="0.00" font-size="24.8" text-anchor="end" transform="translate(85.80 991.25) scale(0.92 1)">2.5</text>
<line x1="88.30" y1="905.70" x2="99.30" y2="905.70" stroke="#000" stroke-width="1.8"/>
<text x="0.00" y="0.00" font-size="24.8" text-anchor="end" transform="translate(85.80 913.70) scale(0.92 1)">5.0</text>
<line x1="88.30" y1="828.15" x2="99.30" y2="828.15" stroke="#000" stroke-width="1.8"/>
<text x="0.00" y="0.00" font-size="24.8" text-anchor="end" transform="translate(85.80 836.15) scale(0.92 1)">7.5</text>
<line x1="88.30" y1="750.60" x2="99.30" y2="750.60" stroke="#000" stroke-width="1.8"/>
<text x="0.00" y="0.00" font-size="24.8" text-anchor="end" transform="translate(85.80 758.60) scale(0.92 1)">10.0</text>
<text x="40.00" y="920.50" font-size="26.3" text-anchor="middle" transform="rotate(-90 40.00 920.50)">Relative mRNA levels</text>
<rect x="383.00" y="762.60" width="18.50" height="18.20" fill="#5f5f5f"/>
<rect x="383.00" y="785.80" width="18.50" height="18.20" fill="#a0a0a0"/>
<text x="407.50" y="779.80" font-size="23.5">Control</text>
<text x="408.30" y="804.10" font-size="23.5">IC20</text>
<text x="129.50" y="1083.00" font-size="19.5" text-anchor="end" transform="rotate(-45 129.50 1083.00)">TP53</text>
<text x="181.60" y="1083.00" font-size="19.5" text-anchor="end" transform="rotate(-45 181.60 1083.00)">CDKN1A/p21</text>
<text x="233.50" y="1083.00" font-size="19.5" text-anchor="end" transform="rotate(-45 233.50 1083.00)">MDM2</text>
<text x="285.70" y="1083.00" font-size="19.5" text-anchor="end" transform="rotate(-45 285.70 1083.00)">PHLDA3</text>
<text x="337.90" y="1083.00" font-size="19.5" text-anchor="end" transform="rotate(-45 337.90 1083.00)">PLK2</text>
<text x="390.10" y="1083.00" font-size="19.5" text-anchor="end" transform="rotate(-45 390.10 1083.00)">ZMAT3</text>
<text x="441.90" y="1083.00" font-size="19.5" text-anchor="end" transform="rotate(-45 441.90 1083.00)">SESN1</text>
<text x="494.00" y="1083.00" font-size="19.5" text-anchor="end" transform="rotate(-45 494.00 1083.00)">LAPTM5</text>
<text x="615.20" y="763.30" font-size="37">G</text>
<rect x="749.50" y="791.00" width="26.37" height="22.75" fill="#56ab80"/>
<rect x="775.27" y="791.00" width="26.37" height="22.75" fill="#55a882"/>
<rect x="801.04" y="791.00" width="26.37" height="22.75" fill="#452e7c"/>
<rect x="826.81" y="791.00" width="26.37" height="22.75" fill="#45287a"/>
<rect x="852.59" y="791.00" width="26.37" height="22.75" fill="#3f778b"/>
<rect x="878.36" y="791.00" width="26.37" height="22.75" fill="#3f778b"/>
<rect x="904.13" y="791.00" width="26.37" height="22.75" fill="#427e8b"/>
<rect x="929.90" y="791.00" width="26.37" height="22.75" fill="#46878b"/>
<rect x="955.67" y="791.00" width="26.37" height="22.75" fill="#f3e050"/>
<rect x="981.44" y="791.00" width="26.37" height="22.75" fill="#dbde50"/>
<rect x="1007.21" y="791.00" width="26.37" height="22.75" fill="#509f87"/>
<rect x="1032.99" y="791.00" width="26.37" height="22.75" fill="#54a683"/>
<rect x="1058.76" y="791.00" width="26.37" height="22.75" fill="#427e8b"/>
<rect x="1084.53" y="791.00" width="26.37" height="22.75" fill="#40798b"/>
<rect x="749.50" y="813.15" width="26.37" height="22.75" fill="#427e8b"/>
<rect x="775.27" y="813.15" width="26.37" height="22.75" fill="#3f738b"/>
<rect x="801.04" y="813.15" width="26.37" height="22.75" fill="#3d0f55"/>
<rect x="826.81" y="813.15" width="26.37" height="22.75" fill="#45287a"/>
<rect x="852.59" y="813.15" width="26.37" height="22.75" fill="#4e9a8a"/>
<rect x="878.36" y="813.15" width="26.37" height="22.75" fill="#4e9a8a"/>
<rect x="904.13" y="813.15" width="26.37" height="22.75" fill="#498e8a"/>
<rect x="929.90" y="813.15" width="26.37" height="22.75" fill="#6bba75"/>
<rect x="955.67" y="813.15" width="26.37" height="22.75" fill="#f8e050"/>
<rect x="981.44" y="813.15" width="26.37" height="22.75" fill="#8bc963"/>
<rect x="1007.21" y="813.15" width="26.37" height="22.75" fill="#4e9a8a"/>
<rect x="1032.99" y="813.15" width="26.37" height="22.75" fill="#4c958a"/>
<rect x="1058.76" y="813.15" width="26.37" height="22.75" fill="#4e9a8a"/>
<rect x="1084.53" y="813.15" width="26.37" height="22.75" fill="#4e9a8a"/>
<rect x="749.50" y="835.31" width="26.37" height="22.75" fill="#45287a"/>
<rect x="775.27" y="835.31" width="26.37" height="22.75" fill="#43206f"/>
<rect x="801.04" y="835.31" width="26.37" height="22.75" fill="#443d82"/>
<rect x="826.81" y="835.31" width="26.37" height="22.75" fill="#414c86"/>
<rect x="852.59" y="835.31" width="26.37" height="22.75" fill="#4c958a"/>
<rect x="878.36" y="835.31" width="26.37" height="22.75" fill="#4c958a"/>
<rect x="904.13" y="835.31" width="26.37" height="22.75" fill="#55a981"/>
<rect x="929.90" y="835.31" width="26.37" height="22.75" fill="#52a385"/>
<rect x="955.67" y="835.31" width="26.37" height="22.75" fill="#6bba75"/>
<rect x="981.44" y="835.31" width="26.37" height="22.75" fill="#5eb17c"/>
<rect x="1007.21" y="835.31" width="26.37" height="22.75" fill="#52a385"/>
<rect x="1032.99" y="835.31" width="26.37" height="22.75" fill="#55a981"/>
<rect x="1058.76" y="835.31" width="26.37" height="22.75" fill="#90cc60"/>
<rect x="1084.53" y="835.31" width="26.37" height="22.75" fill="#8bc963"/>
<rect x="749.50" y="857.46" width="26.37" height="22.75" fill="#424985"/>
<rect x="775.27" y="857.46" width="26.37" height="22.75" fill="#424985"/>
<rect x="801.04" y="857.46" width="26.37" height="22.75" fill="#3e608a"/>
<rect x="826.81" y="857.46" width="26.37" height="22.75" fill="#3e608a"/>
<rect x="852.59" y="857.46" width="26.37" height="22.75" fill="#3e608a"/>
<rect x="878.36" y="857.46" width="26.37" height="22.75" fill="#405388"/>
<rect x="904.13" y="857.46" width="26.37" height="22.75" fill="#4c958a"/>
<rect x="929.90" y="857.46" width="26.37" height="22.75" fill="#478a8a"/>
<rect x="955.67" y="857.46" width="26.37" height="22.75" fill="#70bd72"/>
<rect x="981.44" y="857.46" width="26.37" height="22.75" fill="#85c766"/>
<rect x="1007.21" y="857.46" width="26.37" height="22.75" fill="#85c766"/>
<rect x="1032.99" y="857.46" width="26.37" height="22.75" fill="#76bf6f"/>
<rect x="1058.76" y="857.46" width="26.37" height="22.75" fill="#a5d25a"/>
<rect x="1084.53" y="857.46" width="26.37" height="22.75" fill="#a8d359"/>
<rect x="749.50" y="879.62" width="26.37" height="22.75" fill="#424684"/>
<rect x="775.27" y="879.62" width="26.37" height="22.75" fill="#3f5688"/>
<rect x="801.04" y="879.62" width="26.37" height="22.75" fill="#44838b"/>
<rect x="826.81" y="879.62" width="26.37" height="22.75" fill="#44838b"/>
<rect x="852.59" y="879.62" width="26.37" height="22.75" fill="#443d82"/>
<rect x="878.36" y="879.62" width="26.37" height="22.75" fill="#3e5c8a"/>
<rect x="904.13" y="879.62" width="26.37" height="22.75" fill="#4c958a"/>
<rect x="929.90" y="879.62" width="26.37" height="22.75" fill="#44838b"/>
<rect x="955.67" y="879.62" width="26.37" height="22.75" fill="#5eb17c"/>
<rect x="981.44" y="879.62" width="26.37" height="22.75" fill="#54a683"/>
<rect x="1007.21" y="879.62" width="26.37" height="22.75" fill="#76bf6f"/>
<rect x="1032.99" y="879.62" width="26.37" height="22.75" fill="#85c766"/>
<rect x="1058.76" y="879.62" width="26.37" height="22.75" fill="#e0de50"/>
<rect x="1084.53" y="879.62" width="26.37" height="22.75" fill="#a5d25a"/>
<rect x="749.50" y="901.77" width="26.37" height="22.75" fill="#452e7c"/>
<rect x="775.27" y="901.77" width="26.37" height="22.75" fill="#452e7c"/>
<rect x="801.04" y="901.77" width="26.37" height="22.75" fill="#427e8b"/>
<rect x="826.81" y="901.77" width="26.37" height="22.75" fill="#427e8b"/>
<rect x="852.59" y="901.77" width="26.37" height="22.75" fill="#3e5c8a"/>
<rect x="878.36" y="901.77" width="26.37" height="22.75" fill="#3f5688"/>
<rect x="904.13" y="901.77" width="26.37" height="22.75" fill="#4c958a"/>
<rect x="929.90" y="901.77" width="26.37" height="22.75" fill="#4c958a"/>
<rect x="955.67" y="901.77" width="26.37" height="22.75" fill="#52a385"/>
<rect x="981.44" y="901.77" width="26.37" height="22.75" fill="#54a683"/>
<rect x="1007.21" y="901.77" width="26.37" height="22.75" fill="#9ed05c"/>
<rect x="1032.99" y="901.77" width="26.37" height="22.75" fill="#9ed05c"/>
<rect x="1058.76" y="901.77" width="26.37" height="22.75" fill="#9ed05c"/>
<rect x="1084.53" y="901.77" width="26.37" height="22.75" fill="#9ed05c"/>
<rect x="749.50" y="923.92" width="26.37" height="22.75" fill="#443d82"/>
<rect x="775.27" y="923.92" width="26.37" height="22.75" fill="#45307d"/>
<rect x="801.04" y="923.92" width="26.37" height="22.75" fill="#5eb17c"/>
<rect x="826.81" y="923.92" width="26.37" height="22.75" fill="#51a086"/>
<rect x="852.59" y="923.92" width="26.37" height="22.75" fill="#3f5688"/>
<rect x="878.36" y="923.92" width="26.37" height="22.75" fill="#405087"/>
<rect x="904.13" y="923.92" width="26.37" height="22.75" fill="#4e9a8a"/>
<rect x="929.90" y="923.92" width="26.37" height="22.75" fill="#51a086"/>
<rect x="955.67" y="923.92" width="26.37" height="22.75" fill="#3e688a"/>
<rect x="981.44" y="923.92" width="26.37" height="22.75" fill="#3f738b"/>
<rect x="1007.21" y="923.92" width="26.37" height="22.75" fill="#85c766"/>
<rect x="1032.99" y="923.92" width="26.37" height="22.75" fill="#70bd72"/>
<rect x="1058.76" y="923.92" width="26.37" height="22.75" fill="#bad854"/>
<rect x="1084.53" y="923.92" width="26.37" height="22.75" fill="#e0de50"/>
<rect x="749.50" y="946.08" width="26.37" height="22.75" fill="#3f5688"/>
<rect x="775.27" y="946.08" width="26.37" height="22.75" fill="#3e5c8a"/>
<rect x="801.04" y="946.08" width="26.37" height="22.75" fill="#4e9a8a"/>
<rect x="826.81" y="946.08" width="26.37" height="22.75" fill="#4a918a"/>
<rect x="852.59" y="946.08" width="26.37" height="22.75" fill="#8bc963"/>
<rect x="878.36" y="946.08" width="26.37" height="22.75" fill="#8bc963"/>
<rect x="904.13" y="946.08" width="26.37" height="22.75" fill="#4e9a8a"/>
<rect x="929.90" y="946.08" width="26.37" height="22.75" fill="#4f9d88"/>
<rect x="955.67" y="946.08" width="26.37" height="22.75" fill="#427e8b"/>
<rect x="981.44" y="946.08" width="26.37" height="22.75" fill="#427e8b"/>
<rect x="1007.21" y="946.08" width="26.37" height="22.75" fill="#45287a"/>
<rect x="1032.99" y="946.08" width="26.37" height="22.75" fill="#443980"/>
<rect x="1058.76" y="946.08" width="26.37" height="22.75" fill="#9ed05c"/>
<rect x="1084.53" y="946.08" width="26.37" height="22.75" fill="#d6dd50"/>
<rect x="749.50" y="968.23" width="26.37" height="22.75" fill="#4e9a8a"/>
<rect x="775.27" y="968.23" width="26.37" height="22.75" fill="#4c958a"/>
<rect x="801.04" y="968.23" width="26.37" height="22.75" fill="#76bf6f"/>
<rect x="826.81" y="968.23" width="26.37" height="22.75" fill="#97ce5e"/>
<rect x="852.59" y="968.23" width="26.37" height="22.75" fill="#54a683"/>
<rect x="878.36" y="968.23" width="26.37" height="22.75" fill="#70bd72"/>
<rect x="904.13" y="968.23" width="26.37" height="22.75" fill="#70bd72"/>
<rect x="929.90" y="968.23" width="26.37" height="22.75" fill="#8bc963"/>
<rect x="955.67" y="968.23" width="26.37" height="22.75" fill="#432373"/>
<rect x="981.44" y="968.23" width="26.37" height="22.75" fill="#3d0f55"/>
<rect x="1007.21" y="968.23" width="26.37" height="22.75" fill="#427e8b"/>
<rect x="1032.99" y="968.23" width="26.37" height="22.75" fill="#4a918a"/>
<rect x="1058.76" y="968.23" width="26.37" height="22.75" fill="#45858b"/>
<rect x="1084.53" y="968.23" width="26.37" height="22.75" fill="#3f6b8b"/>
<rect x="749.50" y="990.38" width="26.37" height="22.75" fill="#bad854"/>
<rect x="775.27" y="990.38" width="26.37" height="22.75" fill="#cddc50"/>
<rect x="801.04" y="990.38" width="26.37" height="22.75" fill="#5aae7e"/>
<rect x="826.81" y="990.38" width="26.37" height="22.75" fill="#76bf6f"/>
<rect x="852.59" y="990.38" width="26.37" height="22.75" fill="#7bc26c"/>
<rect x="878.36" y="990.38" width="26.37" height="22.75" fill="#6bba75"/>
<rect x="904.13" y="990.38" width="26.37" height="22.75" fill="#51a086"/>
<rect x="929.90" y="990.38" width="26.37" height="22.75" fill="#40798b"/>
<rect x="955.67" y="990.38" width="26.37" height="22.75" fill="#40798b"/>
<rect x="981.44" y="990.38" width="26.37" height="22.75" fill="#3f738b"/>
<rect x="1007.21" y="990.38" width="26.37" height="22.75" fill="#432373"/>
<rect x="1032.99" y="990.38" width="26.37" height="22.75" fill="#434384"/>
<rect x="1058.76" y="990.38" width="26.37" height="22.75" fill="#44838b"/>
<rect x="1084.53" y="990.38" width="26.37" height="22.75" fill="#405388"/>
<rect x="749.50" y="1012.54" width="26.37" height="22.75" fill="#acd458"/>
<rect x="775.27" y="1012.54" width="26.37" height="22.75" fill="#bad854"/>
<rect x="801.04" y="1012.54" width="26.37" height="22.75" fill="#5aae7e"/>
<rect x="826.81" y="1012.54" width="26.37" height="22.75" fill="#63b479"/>
<rect x="852.59" y="1012.54" width="26.37" height="22.75" fill="#8bc963"/>
<rect x="878.36" y="1012.54" width="26.37" height="22.75" fill="#8bc963"/>
<rect x="904.13" y="1012.54" width="26.37" height="22.75" fill="#4e9a8a"/>
<rect x="929.90" y="1012.54" width="26.37" height="22.75" fill="#4c958a"/>
<rect x="955.67" y="1012.54" width="26.37" height="22.75" fill="#3e648a"/>
<rect x="981.44" y="1012.54" width="26.37" height="22.75" fill="#3f6f8b"/>
<rect x="1007.21" y="1012.54" width="26.37" height="22.75" fill="#3e5c8a"/>
<rect x="1032.99" y="1012.54" width="26.37" height="22.75" fill="#3e648a"/>
<rect x="1058.76" y="1012.54" width="26.37" height="22.75" fill="#452e7c"/>
<rect x="1084.53" y="1012.54" width="26.37" height="22.75" fill="#452c7c"/>
<rect x="749.50" y="1034.69" width="26.37" height="22.75" fill="#6bba75"/>
<rect x="775.27" y="1034.69" width="26.37" height="22.75" fill="#6bba75"/>
<rect x="801.04" y="1034.69" width="26.37" height="22.75" fill="#54a683"/>
<rect x="826.81" y="1034.69" width="26.37" height="22.75" fill="#52a385"/>
<rect x="852.59" y="1034.69" width="26.37" height="22.75" fill="#c1da52"/>
<rect x="878.36" y="1034.69" width="26.37" height="22.75" fill="#c1da52"/>
<rect x="904.13" y="1034.69" width="26.37" height="22.75" fill="#7bc26c"/>
<rect x="929.90" y="1034.69" width="26.37" height="22.75" fill="#54a683"/>
<rect x="955.67" y="1034.69" width="26.37" height="22.75" fill="#3f5989"/>
<rect x="981.44" y="1034.69" width="26.37" height="22.75" fill="#443d82"/>
<rect x="1007.21" y="1034.69" width="26.37" height="22.75" fill="#434384"/>
<rect x="1032.99" y="1034.69" width="26.37" height="22.75" fill="#3f738b"/>
<rect x="1058.76" y="1034.69" width="26.37" height="22.75" fill="#414c86"/>
<rect x="1084.53" y="1034.69" width="26.37" height="22.75" fill="#405388"/>
<rect x="749.50" y="1056.85" width="26.37" height="22.75" fill="#76bf6f"/>
<rect x="775.27" y="1056.85" width="26.37" height="22.75" fill="#70bd72"/>
<rect x="801.04" y="1056.85" width="26.37" height="22.75" fill="#4a918a"/>
<rect x="826.81" y="1056.85" width="26.37" height="22.75" fill="#4a918a"/>
<rect x="852.59" y="1056.85" width="26.37" height="22.75" fill="#cddc50"/>
<rect x="878.36" y="1056.85" width="26.37" height="22.75" fill="#cddc50"/>
<rect x="904.13" y="1056.85" width="26.37" height="22.75" fill="#63b479"/>
<rect x="929.90" y="1056.85" width="26.37" height="22.75" fill="#51a086"/>
<rect x="955.67" y="1056.85" width="26.37" height="22.75" fill="#44838b"/>
<rect x="981.44" y="1056.85" width="26.37" height="22.75" fill="#427e8b"/>
<rect x="1007.21" y="1056.85" width="26.37" height="22.75" fill="#44838b"/>
<rect x="1032.99" y="1056.85" width="26.37" height="22.75" fill="#3f738b"/>
<rect x="1058.76" y="1056.85" width="26.37" height="22.75" fill="#45287a"/>
<rect x="1084.53" y="1056.85" width="26.37" height="22.75" fill="#421e6b"/>
<path d="M762.39 791.00 V789.20 H788.16 V791.00" fill="none" stroke="#e0909e" stroke-width="1.4"/>
<path d="M813.93 791.00 V787.40 H839.70 V791.00" fill="none" stroke="#e0909e" stroke-width="1.4"/>
<path d="M865.47 791.00 V789.10 H891.24 V791.00" fill="none" stroke="#e0909e" stroke-width="1.4"/>
<path d="M917.01 791.00 V785.00 H942.79 V791.00" fill="none" stroke="#e0909e" stroke-width="1.4"/>
<path d="M878.36 789.10 V775.60 H929.90 V785.00" fill="none" stroke="#e0909e" stroke-width="1.4"/>
<path d="M826.81 787.40 V773.70 H903.80 V775.60" fill="none" stroke="#e0909e" stroke-width="1.4"/>
<path d="M775.27 789.20 V769.50 H865.50 V773.70" fill="none" stroke="#e0909e" stroke-width="1.4"/>
<path d="M968.56 791.00 V786.20 H994.33 V791.00" fill="none" stroke="#5fc0b6" stroke-width="1.4"/>
<path d="M1020.10 791.00 V786.20 H1045.87 V791.00" fill="none" stroke="#5fc0b6" stroke-width="1.4"/>
<path d="M1071.64 791.00 V786.20 H1097.41 V791.00" fill="none" stroke="#5fc0b6" stroke-width="1.4"/>
<path d="M981.44 786.20 V774.40 H1032.99 V786.20" fill="none" stroke="#5fc0b6" stroke-width="1.4"/>
<path d="M1006.70 774.40 V769.50 H1084.53 V786.20" fill="none" stroke="#5fc0b6" stroke-width="1.4"/>
<path d="M820.4 769.5 V753.1 H933" fill="none" stroke="#e0909e" stroke-width="1.4"/>
<path d="M933 753.1 H1045.7 V769.5" fill="none" stroke="#5fc0b6" stroke-width="1.4"/>
<path d="M749.50 802.08 H723.50 V824.23 H749.50" fill="none" stroke="#000" stroke-width="1.7"/>
<path d="M749.50 890.69 H738.60 V912.85 H749.50" fill="none" stroke="#000" stroke-width="1.7"/>
<path d="M749.50 868.54 H737.10 V901.77 H738.60" fill="none" stroke="#000" stroke-width="1.7"/>
<path d="M749.50 846.38 H720.50 V885.15 H737.10" fill="none" stroke="#000" stroke-width="1.7"/>
<path d="M749.50 935.00 H706.60 V866.00 H720.50" fill="none" stroke="#000" stroke-width="1.7"/>
<path d="M706.60 900.70 H685.20 V957.15 H749.50" fill="none" stroke="#000" stroke-width="1.7"/>
<path d="M723.50 813.15 H673.00 V928.80 H685.20" fill="none" stroke="#000" stroke-width="1.7"/>
<path d="M749.50 1023.62 H730.00 V1045.77 H749.50" fill="none" stroke="#000" stroke-width="1.7"/>
<path d="M730.00 1034.69 H728.80 V1067.92 H749.50" fill="none" stroke="#000" stroke-width="1.7"/>
<path d="M749.50 1001.46 H714.10 V1052.10 H728.80" fill="none" stroke="#000" stroke-width="1.7"/>
<path d="M749.50 979.31 H703.90 V1027.20 H714.10" fill="none" stroke="#000" stroke-width="1.7"/>
<path d="M673.00 871.00 H659.80 V1003.00 H703.90" fill="none" stroke="#000" stroke-width="1.7"/>
<text x="1117.90" y="804.60" font-size="20.7" fill="#3b3b3b">CDCA7</text>
<text x="1117.90" y="827.10" font-size="20.7" fill="#3b3b3b">MEX3A</text>
<text x="1117.90" y="849.60" font-size="20.7" fill="#3b3b3b">LGR5</text>
<text x="1117.90" y="872.10" font-size="20.7" fill="#3b3b3b">EPHB2</text>
<text x="1117.90" y="894.60" font-size="20.7" fill="#3b3b3b">CD44</text>
<text x="1117.90" y="917.10" font-size="20.7" fill="#3b3b3b">AXIN2</text>
<text x="1117.90" y="939.60" font-size="20.7" fill="#3b3b3b">ASCL2</text>
<text x="1117.90" y="962.10" font-size="20.7" fill="#3b3b3b">HES1</text>
<text x="1117.90" y="984.60" font-size="20.7" fill="#3b3b3b">LY6D</text>
<text x="1117.90" y="1007.10" font-size="20.7" fill="#3b3b3b">YAP1</text>
<text x="1117.90" y="1029.60" font-size="20.7" fill="#3b3b3b">EPHA4</text>
<text x="1117.90" y="1052.10" font-size="20.7" fill="#3b3b3b">SOX9</text>
<text x="1117.90" y="1074.60" font-size="20.7" fill="#3b3b3b">PROM1</text>
<defs><linearGradient id="vg" x1="0" y1="1" x2="0" y2="0"><stop offset="0.000" stop-color="#3d0f55"/><stop offset="0.042" stop-color="#401964"/><stop offset="0.083" stop-color="#442474"/><stop offset="0.125" stop-color="#452d7c"/><stop offset="0.167" stop-color="#44367f"/><stop offset="0.208" stop-color="#444083"/><stop offset="0.250" stop-color="#414c86"/><stop offset="0.292" stop-color="#3e5989"/><stop offset="0.333" stop-color="#3e698a"/><stop offset="0.375" stop-color="#40788b"/><stop offset="0.417" stop-color="#44828b"/><stop offset="0.458" stop-color="#488c8a"/><stop offset="0.500" stop-color="#4c958a"/><stop offset="0.542" stop-color="#509d88"/><stop offset="0.583" stop-color="#53a484"/><stop offset="0.625" stop-color="#56aa80"/><stop offset="0.667" stop-color="#65b678"/><stop offset="0.708" stop-color="#72be71"/><stop offset="0.750" stop-color="#7ec36a"/><stop offset="0.792" stop-color="#89c864"/><stop offset="0.833" stop-color="#99cf5d"/><stop offset="0.875" stop-color="#b6d755"/><stop offset="0.917" stop-color="#d0dd50"/><stop offset="0.958" stop-color="#e4de50"/><stop offset="1.000" stop-color="#f8e050"/></linearGradient></defs>
<rect x="1204.10" y="942.10" width="13.90" height="130.20" fill="url(#vg)"/>
<text x="1226.30" y="960.00" font-size="19.5" fill="#3b3b3b">1</text>
<text x="1226.30" y="994.60" font-size="19.5" fill="#3b3b3b">0</text>
<text x="1226.30" y="1028.90" font-size="19.5" fill="#3b3b3b" textLength="23.3" lengthAdjust="spacing">−1</text>
<text x="1226.30" y="1063.30" font-size="19.5" fill="#3b3b3b" textLength="23.3" lengthAdjust="spacing">−2</text>
<line x1="751.20" y1="1084.40" x2="797.10" y2="1084.40" stroke="#555" stroke-width="1.6"/>
<line x1="802.70" y1="1084.40" x2="848.60" y2="1084.40" stroke="#555" stroke-width="1.6"/>
<line x1="856.30" y1="1084.40" x2="901.90" y2="1084.40" stroke="#555" stroke-width="1.6"/>
<line x1="907.20" y1="1084.40" x2="952.70" y2="1084.40" stroke="#555" stroke-width="1.6"/>
<line x1="959.10" y1="1084.40" x2="1004.90" y2="1084.40" stroke="#555" stroke-width="1.6"/>
<line x1="1010.20" y1="1084.40" x2="1107.80" y2="1084.40" stroke="#555" stroke-width="1.6"/>
<text x="788.10" y="1095.70" font-size="19.5" text-anchor="end" fill="#1a1a1a" transform="rotate(-45 788.10 1095.70)">PDO66 IC<tspan font-size="12.5" dy="5">30</tspan></text>
<text x="840.40" y="1095.70" font-size="19.5" text-anchor="end" fill="#1a1a1a" transform="rotate(-45 840.40 1095.70)">PDO5 IC<tspan font-size="12.5" dy="5">30</tspan></text>
<text x="891.20" y="1095.70" font-size="19.5" text-anchor="end" fill="#1a1a1a" transform="rotate(-45 891.20 1095.70)">PDO66 IC<tspan font-size="12.5" dy="5">30</tspan></text>
<text x="943.00" y="1095.70" font-size="19.5" text-anchor="end" fill="#1a1a1a" transform="rotate(-45 943.00 1095.70)">PDO5 IC<tspan font-size="12.5" dy="5">20</tspan></text>
<text x="997.60" y="1095.40" font-size="19.5" text-anchor="end" fill="#1a1a1a" transform="rotate(-45 997.60 1095.40)">PDO5 Unt.</text>
<text x="1069.20" y="1094.00" font-size="19.5" text-anchor="end" fill="#1a1a1a" transform="rotate(-45 1069.20 1094.00)">PDO66 Unt.</text>
<rect x="84.10" y="1272.00" width="311.90" height="203.20" fill="#fff"/>
<line x1="84.10" y1="1283.45" x2="396.00" y2="1283.45" stroke="#cfcfcf" stroke-width="1" stroke-dasharray="2 2"/>
<line x1="84.10" y1="1312.55" x2="396.00" y2="1312.55" stroke="#cfcfcf" stroke-width="1" stroke-dasharray="2 2"/>
<line x1="84.10" y1="1327.10" x2="396.00" y2="1327.10" stroke="#cfcfcf" stroke-width="1" stroke-dasharray="2 2"/>
<line x1="84.10" y1="1341.65" x2="396.00" y2="1341.65" stroke="#cfcfcf" stroke-width="1" stroke-dasharray="2 2"/>
<line x1="84.10" y1="1356.20" x2="396.00" y2="1356.20" stroke="#cfcfcf" stroke-width="1" stroke-dasharray="2 2"/>
<line x1="84.10" y1="1370.75" x2="396.00" y2="1370.75" stroke="#cfcfcf" stroke-width="1" stroke-dasharray="2 2"/>
<line x1="84.10" y1="1385.30" x2="396.00" y2="1385.30" stroke="#cfcfcf" stroke-width="1" stroke-dasharray="2 2"/>
<line x1="84.10" y1="1399.85" x2="396.00" y2="1399.85" stroke="#cfcfcf" stroke-width="1" stroke-dasharray="2 2"/>
<line x1="149.76" y1="1272.00" x2="149.76" y2="1415.60" stroke="#d6d6d6" stroke-width="1" stroke-dasharray="2 2"/>
<line x1="215.43" y1="1272.00" x2="215.43" y2="1415.60" stroke="#d6d6d6" stroke-width="1" stroke-dasharray="2 2"/>
<line x1="281.09" y1="1272.00" x2="281.09" y2="1415.60" stroke="#d6d6d6" stroke-width="1" stroke-dasharray="2 2"/>
<line x1="346.75" y1="1272.00" x2="346.75" y2="1415.60" stroke="#d6d6d6" stroke-width="1" stroke-dasharray="2 2"/>
<line x1="84.10" y1="1298.00" x2="396.00" y2="1298.00" stroke="#9a9a9a" stroke-width="1.3"/>
<rect x="85.00" y="1416.80" width="1.00" height="46.30" fill="#aaaaaa" shape-rendering="crispEdges"/>
<rect x="86.00" y="1416.80" width="1.00" height="46.30" fill="#787878" shape-rendering="crispEdges"/>
<rect x="87.00" y="1416.80" width="3.00" height="46.30" fill="#191919" shape-rendering="crispEdges"/>
<rect x="90.00" y="1416.80" width="1.00" height="46.30" fill="#787878" shape-rendering="crispEdges"/>
<rect x="91.00" y="1416.80" width="2.00" height="46.30" fill="#000000" shape-rendering="crispEdges"/>
<rect x="93.00" y="1416.80" width="1.00" height="46.30" fill="#191919" shape-rendering="crispEdges"/>
<rect x="95.00" y="1416.80" width="1.00" height="46.30" fill="#5a5a5a" shape-rendering="crispEdges"/>
<rect x="96.00" y="1416.80" width="1.00" height="46.30" fill="#000000" shape-rendering="crispEdges"/>
<rect x="97.00" y="1416.80" width="1.00" height="46.30" fill="#aaaaaa" shape-rendering="crispEdges"/>
<rect x="98.00" y="1416.80" width="3.00" height="46.30" fill="#000000" shape-rendering="crispEdges"/>
<rect x="101.00" y="1416.80" width="1.00" height="46.30" fill="#969696" shape-rendering="crispEdges"/>
<rect x="102.00" y="1416.80" width="1.00" height="46.30" fill="#5a5a5a" shape-rendering="crispEdges"/>
<rect x="103.00" y="1416.80" width="1.00" height="46.30" fill="#969696" shape-rendering="crispEdges"/>
<rect x="104.00" y="1416.80" width="1.00" height="46.30" fill="#5a5a5a" shape-rendering="crispEdges"/>
<rect x="107.00" y="1416.80" width="3.00" height="46.30" fill="#000000" shape-rendering="crispEdges"/>
<rect x="110.00" y="1416.80" width="1.00" height="46.30" fill="#969696" shape-rendering="crispEdges"/>
<rect x="111.00" y="1416.80" width="1.00" height="46.30" fill="#5a5a5a" shape-rendering="crispEdges"/>
<rect x="113.00" y="1416.80" width="1.00" height="46.30" fill="#191919" shape-rendering="crispEdges"/>
<rect x="114.00" y="1416.80" width="2.00" height="46.30" fill="#191919" shape-rendering="crispEdges"/>
<rect x="116.00" y="1416.80" width="1.00" height="46.30" fill="#0a0a0a" shape-rendering="crispEdges"/>
<rect x="117.00" y="1416.80" width="2.00" height="46.30" fill="#0a0a0a" shape-rendering="crispEdges"/>
<rect x="119.00" y="1416.80" width="2.00" height="46.30" fill="#000000" shape-rendering="crispEdges"/>
<rect x="121.00" y="1416.80" width="1.00" height="46.30" fill="#000000" shape-rendering="crispEdges"/>
<rect x="122.00" y="1416.80" width="2.00" height="46.30" fill="#000000" shape-rendering="crispEdges"/>
<rect x="125.00" y="1416.80" width="1.00" height="46.30" fill="#787878" shape-rendering="crispEdges"/>
<rect x="127.00" y="1416.80" width="1.00" height="46.30" fill="#aaaaaa" shape-rendering="crispEdges"/>
<rect x="128.00" y="1416.80" width="2.00" height="46.30" fill="#000000" shape-rendering="crispEdges"/>
<rect x="130.00" y="1416.80" width="3.00" height="46.30" fill="#0a0a0a" shape-rendering="crispEdges"/>
<rect x="134.00" y="1416.80" width="2.00" height="46.30" fill="#000000" shape-rendering="crispEdges"/>
<rect x="136.00" y="1416.80" width="1.00" height="46.30" fill="#000000" shape-rendering="crispEdges"/>
<rect x="137.00" y="1416.80" width="1.00" height="46.30" fill="#5a5a5a" shape-rendering="crispEdges"/>
<rect x="140.00" y="1416.80" width="1.00" height="46.30" fill="#000000" shape-rendering="crispEdges"/>
<rect x="141.00" y="1416.80" width="1.00" height="46.30" fill="#787878" shape-rendering="crispEdges"/>
<rect x="142.00" y="1416.80" width="2.00" height="46.30" fill="#0a0a0a" shape-rendering="crispEdges"/>
<rect x="144.00" y="1416.80" width="1.00" height="46.30" fill="#787878" shape-rendering="crispEdges"/>
<rect x="149.00" y="1416.80" width="1.00" height="46.30" fill="#969696" shape-rendering="crispEdges"/>
<rect x="156.00" y="1416.80" width="1.00" height="46.30" fill="#5a5a5a" shape-rendering="crispEdges"/>
<rect x="157.00" y="1416.80" width="1.00" height="46.30" fill="#0a0a0a" shape-rendering="crispEdges"/>
<rect x="163.00" y="1416.80" width="2.00" height="46.30" fill="#0a0a0a" shape-rendering="crispEdges"/>
<rect x="165.00" y="1416.80" width="3.00" height="46.30" fill="#191919" shape-rendering="crispEdges"/>
<rect x="168.00" y="1416.80" width="1.00" height="46.30" fill="#000000" shape-rendering="crispEdges"/>
<rect x="169.00" y="1416.80" width="2.00" height="46.30" fill="#000000" shape-rendering="crispEdges"/>
<rect x="171.00" y="1416.80" width="1.00" height="46.30" fill="#000000" shape-rendering="crispEdges"/>
<rect x="172.00" y="1416.80" width="2.00" height="46.30" fill="#191919" shape-rendering="crispEdges"/>
<rect x="174.00" y="1416.80" width="1.00" height="46.30" fill="#000000" shape-rendering="crispEdges"/>
<rect x="175.00" y="1416.80" width="3.00" height="46.30" fill="#000000" shape-rendering="crispEdges"/>
<rect x="178.00" y="1416.80" width="1.00" height="46.30" fill="#191919" shape-rendering="crispEdges"/>
<rect x="180.00" y="1416.80" width="1.00" height="46.30" fill="#5a5a5a" shape-rendering="crispEdges"/>
<rect x="181.00" y="1416.80" width="2.00" height="46.30" fill="#0a0a0a" shape-rendering="crispEdges"/>
<rect x="184.00" y="1416.80" width="1.00" height="46.30" fill="#5a5a5a" shape-rendering="crispEdges"/>
<rect x="185.00" y="1416.80" width="2.00" height="46.30" fill="#0a0a0a" shape-rendering="crispEdges"/>
<rect x="187.00" y="1416.80" width="1.00" height="46.30" fill="#000000" shape-rendering="crispEdges"/>
<rect x="188.00" y="1416.80" width="2.00" height="46.30" fill="#000000" shape-rendering="crispEdges"/>
<rect x="192.00" y="1416.80" width="2.00" height="46.30" fill="#000000" shape-rendering="crispEdges"/>
<rect x="198.00" y="1416.80" width="1.00" height="46.30" fill="#aaaaaa" shape-rendering="crispEdges"/>
<rect x="199.00" y="1416.80" width="1.00" height="46.30" fill="#000000" shape-rendering="crispEdges"/>
<rect x="200.00" y="1416.80" width="1.00" height="46.30" fill="#0a0a0a" shape-rendering="crispEdges"/>
<rect x="202.00" y="1416.80" width="3.00" height="46.30" fill="#191919" shape-rendering="crispEdges"/>
<rect x="205.00" y="1416.80" width="3.00" height="46.30" fill="#000000" shape-rendering="crispEdges"/>
<rect x="208.00" y="1416.80" width="3.00" height="46.30" fill="#000000" shape-rendering="crispEdges"/>
<rect x="211.00" y="1416.80" width="1.00" height="46.30" fill="#191919" shape-rendering="crispEdges"/>
<rect x="212.00" y="1416.80" width="1.00" height="46.30" fill="#191919" shape-rendering="crispEdges"/>
<rect x="215.00" y="1416.80" width="1.00" height="46.30" fill="#0a0a0a" shape-rendering="crispEdges"/>
<rect x="216.00" y="1416.80" width="3.00" height="46.30" fill="#000000" shape-rendering="crispEdges"/>
<rect x="219.00" y="1416.80" width="2.00" height="46.30" fill="#191919" shape-rendering="crispEdges"/>
<rect x="221.00" y="1416.80" width="1.00" height="46.30" fill="#0a0a0a" shape-rendering="crispEdges"/>
<rect x="222.00" y="1416.80" width="2.00" height="46.30" fill="#000000" shape-rendering="crispEdges"/>
<rect x="224.00" y="1416.80" width="1.00" height="46.30" fill="#787878" shape-rendering="crispEdges"/>
<rect x="227.00" y="1416.80" width="2.00" height="46.30" fill="#000000" shape-rendering="crispEdges"/>
<rect x="229.00" y="1416.80" width="2.00" height="46.30" fill="#0a0a0a" shape-rendering="crispEdges"/>
<rect x="232.00" y="1416.80" width="1.00" height="46.30" fill="#969696" shape-rendering="crispEdges"/>
<rect x="234.00" y="1416.80" width="2.00" height="46.30" fill="#000000" shape-rendering="crispEdges"/>
<rect x="237.00" y="1416.80" width="1.00" height="46.30" fill="#aaaaaa" shape-rendering="crispEdges"/>
<rect x="238.00" y="1416.80" width="1.00" height="46.30" fill="#aaaaaa" shape-rendering="crispEdges"/>
<rect x="239.00" y="1416.80" width="1.00" height="46.30" fill="#0a0a0a" shape-rendering="crispEdges"/>
<rect x="241.00" y="1416.80" width="1.00" height="46.30" fill="#969696" shape-rendering="crispEdges"/>
<rect x="242.00" y="1416.80" width="1.00" height="46.30" fill="#969696" shape-rendering="crispEdges"/>
<rect x="243.00" y="1416.80" width="1.00" height="46.30" fill="#5a5a5a" shape-rendering="crispEdges"/>
<rect x="244.00" y="1416.80" width="1.00" height="46.30" fill="#aaaaaa" shape-rendering="crispEdges"/>
<rect x="245.00" y="1416.80" width="1.00" height="46.30" fill="#0a0a0a" shape-rendering="crispEdges"/>
<rect x="246.00" y="1416.80" width="1.00" height="46.30" fill="#000000" shape-rendering="crispEdges"/>
<rect x="248.00" y="1416.80" width="3.00" height="46.30" fill="#0a0a0a" shape-rendering="crispEdges"/>
<rect x="252.00" y="1416.80" width="2.00" height="46.30" fill="#0a0a0a" shape-rendering="crispEdges"/>
<rect x="254.00" y="1416.80" width="1.00" height="46.30" fill="#191919" shape-rendering="crispEdges"/>
<rect x="255.00" y="1416.80" width="1.00" height="46.30" fill="#000000" shape-rendering="crispEdges"/>
<rect x="256.00" y="1416.80" width="2.00" height="46.30" fill="#000000" shape-rendering="crispEdges"/>
<rect x="258.00" y="1416.80" width="1.00" height="46.30" fill="#000000" shape-rendering="crispEdges"/>
<rect x="259.00" y="1416.80" width="2.00" height="46.30" fill="#000000" shape-rendering="crispEdges"/>
<rect x="261.00" y="1416.80" width="1.00" height="46.30" fill="#000000" shape-rendering="crispEdges"/>
<rect x="262.00" y="1416.80" width="3.00" height="46.30" fill="#0a0a0a" shape-rendering="crispEdges"/>
<rect x="265.00" y="1416.80" width="1.00" height="46.30" fill="#000000" shape-rendering="crispEdges"/>
<rect x="266.00" y="1416.80" width="1.00" height="46.30" fill="#5a5a5a" shape-rendering="crispEdges"/>
<rect x="267.00" y="1416.80" width="2.00" height="46.30" fill="#000000" shape-rendering="crispEdges"/>
<rect x="270.00" y="1416.80" width="1.00" height="46.30" fill="#0a0a0a" shape-rendering="crispEdges"/>
<rect x="271.00" y="1416.80" width="1.00" height="46.30" fill="#191919" shape-rendering="crispEdges"/>
<rect x="272.00" y="1416.80" width="2.00" height="46.30" fill="#0a0a0a" shape-rendering="crispEdges"/>
<rect x="274.00" y="1416.80" width="1.00" height="46.30" fill="#000000" shape-rendering="crispEdges"/>
<rect x="276.00" y="1416.80" width="1.00" height="46.30" fill="#000000" shape-rendering="crispEdges"/>
<rect x="277.00" y="1416.80" width="1.00" height="46.30" fill="#191919" shape-rendering="crispEdges"/>
<rect x="278.00" y="1416.80" width="3.00" height="46.30" fill="#191919" shape-rendering="crispEdges"/>
<rect x="283.00" y="1416.80" width="1.00" height="46.30" fill="#5a5a5a" shape-rendering="crispEdges"/>
<rect x="284.00" y="1416.80" width="1.00" height="46.30" fill="#aaaaaa" shape-rendering="crispEdges"/>
<rect x="285.00" y="1416.80" width="2.00" height="46.30" fill="#000000" shape-rendering="crispEdges"/>
<rect x="287.00" y="1416.80" width="1.00" height="46.30" fill="#0a0a0a" shape-rendering="crispEdges"/>
<rect x="293.00" y="1416.80" width="2.00" height="46.30" fill="#000000" shape-rendering="crispEdges"/>
<rect x="295.00" y="1416.80" width="1.00" height="46.30" fill="#0a0a0a" shape-rendering="crispEdges"/>
<rect x="296.00" y="1416.80" width="1.00" height="46.30" fill="#191919" shape-rendering="crispEdges"/>
<rect x="297.00" y="1416.80" width="3.00" height="46.30" fill="#000000" shape-rendering="crispEdges"/>
<rect x="300.00" y="1416.80" width="1.00" height="46.30" fill="#5a5a5a" shape-rendering="crispEdges"/>
<rect x="301.00" y="1416.80" width="1.00" height="46.30" fill="#191919" shape-rendering="crispEdges"/>
<rect x="302.00" y="1416.80" width="3.00" height="46.30" fill="#000000" shape-rendering="crispEdges"/>
<rect x="305.00" y="1416.80" width="1.00" height="46.30" fill="#000000" shape-rendering="crispEdges"/>
<rect x="308.00" y="1416.80" width="2.00" height="46.30" fill="#0a0a0a" shape-rendering="crispEdges"/>
<rect x="310.00" y="1416.80" width="2.00" height="46.30" fill="#000000" shape-rendering="crispEdges"/>
<rect x="312.00" y="1416.80" width="2.00" height="46.30" fill="#0a0a0a" shape-rendering="crispEdges"/>
<rect x="314.00" y="1416.80" width="2.00" height="46.30" fill="#000000" shape-rendering="crispEdges"/>
<rect x="317.00" y="1416.80" width="1.00" height="46.30" fill="#5a5a5a" shape-rendering="crispEdges"/>
<rect x="318.00" y="1416.80" width="1.00" height="46.30" fill="#000000" shape-rendering="crispEdges"/>
<rect x="319.00" y="1416.80" width="2.00" height="46.30" fill="#0a0a0a" shape-rendering="crispEdges"/>
<rect x="321.00" y="1416.80" width="1.00" height="46.30" fill="#787878" shape-rendering="crispEdges"/>
<rect x="322.00" y="1416.80" width="1.00" height="46.30" fill="#5a5a5a" shape-rendering="crispEdges"/>
<rect x="323.00" y="1416.80" width="3.00" height="46.30" fill="#000000" shape-rendering="crispEdges"/>
<rect x="327.00" y="1416.80" width="1.00" height="46.30" fill="#aaaaaa" shape-rendering="crispEdges"/>
<rect x="328.00" y="1416.80" width="2.00" height="46.30" fill="#000000" shape-rendering="crispEdges"/>
<rect x="330.00" y="1416.80" width="3.00" height="46.30" fill="#000000" shape-rendering="crispEdges"/>
<rect x="333.00" y="1416.80" width="3.00" height="46.30" fill="#000000" shape-rendering="crispEdges"/>
<rect x="336.00" y="1416.80" width="2.00" height="46.30" fill="#000000" shape-rendering="crispEdges"/>
<rect x="338.00" y="1416.80" width="2.00" height="46.30" fill="#000000" shape-rendering="crispEdges"/>
<rect x="340.00" y="1416.80" width="1.00" height="46.30" fill="#000000" shape-rendering="crispEdges"/>
<rect x="341.00" y="1416.80" width="1.00" height="46.30" fill="#000000" shape-rendering="crispEdges"/>
<rect x="342.00" y="1416.80" width="1.00" height="46.30" fill="#969696" shape-rendering="crispEdges"/>
<rect x="343.00" y="1416.80" width="2.00" height="46.30" fill="#191919" shape-rendering="crispEdges"/>
<rect x="345.00" y="1416.80" width="1.00" height="46.30" fill="#000000" shape-rendering="crispEdges"/>
<rect x="346.00" y="1416.80" width="1.00" height="46.30" fill="#000000" shape-rendering="crispEdges"/>
<rect x="347.00" y="1416.80" width="2.00" height="46.30" fill="#0a0a0a" shape-rendering="crispEdges"/>
<rect x="349.00" y="1416.80" width="3.00" height="46.30" fill="#0a0a0a" shape-rendering="crispEdges"/>
<rect x="355.00" y="1416.80" width="1.00" height="46.30" fill="#000000" shape-rendering="crispEdges"/>
<rect x="356.00" y="1416.80" width="1.00" height="46.30" fill="#000000" shape-rendering="crispEdges"/>
<rect x="357.00" y="1416.80" width="3.00" height="46.30" fill="#191919" shape-rendering="crispEdges"/>
<rect x="360.00" y="1416.80" width="1.00" height="46.30" fill="#000000" shape-rendering="crispEdges"/>
<rect x="361.00" y="1416.80" width="1.00" height="46.30" fill="#0a0a0a" shape-rendering="crispEdges"/>
<rect x="363.00" y="1416.80" width="1.00" height="46.30" fill="#191919" shape-rendering="crispEdges"/>
<rect x="364.00" y="1416.80" width="1.00" height="46.30" fill="#0a0a0a" shape-rendering="crispEdges"/>
<rect x="365.00" y="1416.80" width="2.00" height="46.30" fill="#0a0a0a" shape-rendering="crispEdges"/>
<rect x="367.00" y="1416.80" width="3.00" height="46.30" fill="#0a0a0a" shape-rendering="crispEdges"/>
<rect x="370.00" y="1416.80" width="1.00" height="46.30" fill="#000000" shape-rendering="crispEdges"/>
<rect x="371.00" y="1416.80" width="2.00" height="46.30" fill="#0a0a0a" shape-rendering="crispEdges"/>
<rect x="373.00" y="1416.80" width="2.00" height="46.30" fill="#000000" shape-rendering="crispEdges"/>
<rect x="375.00" y="1416.80" width="1.00" height="46.30" fill="#000000" shape-rendering="crispEdges"/>
<rect x="376.00" y="1416.80" width="1.00" height="46.30" fill="#191919" shape-rendering="crispEdges"/>
<rect x="377.00" y="1416.80" width="1.00" height="46.30" fill="#0a0a0a" shape-rendering="crispEdges"/>
<rect x="378.00" y="1416.80" width="2.00" height="46.30" fill="#0a0a0a" shape-rendering="crispEdges"/>
<defs><linearGradient id="cbF" x1="0" x2="1" y1="0" y2="0"><stop offset="0.000" stop-color="#dd4444"/><stop offset="0.180" stop-color="#e65c5c"/><stop offset="0.190" stop-color="#e0707a"/><stop offset="0.360" stop-color="#e8848c"/><stop offset="0.370" stop-color="#e8b2d2"/><stop offset="0.520" stop-color="#efbde0"/><stop offset="0.530" stop-color="#c8c8ee"/><stop offset="0.750" stop-color="#babaf0"/><stop offset="0.760" stop-color="#8080ea"/><stop offset="0.880" stop-color="#5a5ad8"/><stop offset="0.900" stop-color="#3030c8"/><stop offset="1.000" stop-color="#1a1aa0"/></linearGradient></defs>
<rect x="84.10" y="1463.60" width="296.50" height="11.60" fill="url(#cbF)"/>
<rect x="84.10" y="1463.60" width="1.50" height="11.60" fill="#fff" fill-opacity="0.09"/>
<rect x="87.60" y="1463.60" width="1.50" height="11.60" fill="#000" fill-opacity="0.04"/>
<rect x="89.10" y="1463.60" width="1.50" height="11.60" fill="#fff" fill-opacity="0.06"/>
<rect x="90.60" y="1463.60" width="1.50" height="11.60" fill="#fff" fill-opacity="0.08"/>
<rect x="92.10" y="1463.60" width="2.00" height="11.60" fill="#fff" fill-opacity="0.09"/>
<rect x="94.10" y="1463.60" width="3.00" height="11.60" fill="#000" fill-opacity="0.05"/>
<rect x="97.10" y="1463.60" width="1.50" height="11.60" fill="#000" fill-opacity="0.08"/>
<rect x="98.60" y="1463.60" width="2.00" height="11.60" fill="#000" fill-opacity="0.07"/>
<rect x="100.60" y="1463.60" width="1.00" height="11.60" fill="#000" fill-opacity="0.09"/>
<rect x="101.60" y="1463.60" width="1.50" height="11.60" fill="#fff" fill-opacity="0.07"/>
<rect x="103.10" y="1463.60" width="2.00" height="11.60" fill="#fff" fill-opacity="0.07"/>
<rect x="110.10" y="1463.60" width="3.00" height="11.60" fill="#000" fill-opacity="0.08"/>
<rect x="114.10" y="1463.60" width="3.00" height="11.60" fill="#000" fill-opacity="0.07"/>
<rect x="117.10" y="1463.60" width="1.50" height="11.60" fill="#fff" fill-opacity="0.09"/>
<rect x="119.60" y="1463.60" width="2.00" height="11.60" fill="#fff" fill-opacity="0.05"/>
<rect x="125.60" y="1463.60" width="1.50" height="11.60" fill="#000" fill-opacity="0.05"/>
<rect x="128.10" y="1463.60" width="1.00" height="11.60" fill="#000" fill-opacity="0.04"/>
<rect x="131.10" y="1463.60" width="1.00" height="11.60" fill="#fff" fill-opacity="0.08"/>
<rect x="132.10" y="1463.60" width="1.50" height="11.60" fill="#fff" fill-opacity="0.07"/>
<rect x="135.10" y="1463.60" width="1.50" height="11.60" fill="#000" fill-opacity="0.04"/>
<rect x="136.60" y="1463.60" width="1.50" height="11.60" fill="#000" fill-opacity="0.05"/>
<rect x="141.10" y="1463.60" width="1.00" height="11.60" fill="#000" fill-opacity="0.04"/>
<rect x="142.10" y="1463.60" width="2.00" height="11.60" fill="#fff" fill-opacity="0.09"/>
<rect x="144.10" y="1463.60" width="2.00" height="11.60" fill="#fff" fill-opacity="0.04"/>
<rect x="146.10" y="1463.60" width="1.00" height="11.60" fill="#000" fill-opacity="0.06"/>
<rect x="147.10" y="1463.60" width="2.00" height="11.60" fill="#fff" fill-opacity="0.06"/>
<rect x="149.10" y="1463.60" width="1.00" height="11.60" fill="#000" fill-opacity="0.10"/>
<rect x="154.10" y="1463.60" width="1.50" height="11.60" fill="#fff" fill-opacity="0.10"/>
<rect x="156.60" y="1463.60" width="1.00" height="11.60" fill="#000" fill-opacity="0.10"/>
<rect x="160.60" y="1463.60" width="3.00" height="11.60" fill="#fff" fill-opacity="0.09"/>
<rect x="166.60" y="1463.60" width="3.00" height="11.60" fill="#000" fill-opacity="0.08"/>
<rect x="169.60" y="1463.60" width="3.00" height="11.60" fill="#fff" fill-opacity="0.05"/>
<rect x="172.60" y="1463.60" width="1.50" height="11.60" fill="#fff" fill-opacity="0.05"/>
<rect x="175.60" y="1463.60" width="2.00" height="11.60" fill="#000" fill-opacity="0.09"/>
<rect x="178.60" y="1463.60" width="3.00" height="11.60" fill="#000" fill-opacity="0.08"/>
<rect x="181.60" y="1463.60" width="1.00" height="11.60" fill="#000" fill-opacity="0.07"/>
<rect x="182.60" y="1463.60" width="1.00" height="11.60" fill="#fff" fill-opacity="0.05"/>
<rect x="191.60" y="1463.60" width="2.00" height="11.60" fill="#000" fill-opacity="0.08"/>
<rect x="193.60" y="1463.60" width="1.50" height="11.60" fill="#000" fill-opacity="0.09"/>
<rect x="198.60" y="1463.60" width="2.00" height="11.60" fill="#fff" fill-opacity="0.08"/>
<rect x="203.60" y="1463.60" width="1.50" height="11.60" fill="#fff" fill-opacity="0.07"/>
<rect x="206.10" y="1463.60" width="1.50" height="11.60" fill="#000" fill-opacity="0.08"/>
<rect x="207.60" y="1463.60" width="2.00" height="11.60" fill="#000" fill-opacity="0.04"/>
<rect x="211.60" y="1463.60" width="3.00" height="11.60" fill="#000" fill-opacity="0.06"/>
<rect x="222.10" y="1463.60" width="1.50" height="11.60" fill="#fff" fill-opacity="0.08"/>
<rect x="226.60" y="1463.60" width="1.50" height="11.60" fill="#000" fill-opacity="0.04"/>
<rect x="228.10" y="1463.60" width="3.00" height="11.60" fill="#fff" fill-opacity="0.09"/>
<rect x="240.10" y="1463.60" width="1.00" height="11.60" fill="#000" fill-opacity="0.09"/>
<rect x="244.60" y="1463.60" width="1.50" height="11.60" fill="#fff" fill-opacity="0.04"/>
<rect x="249.10" y="1463.60" width="1.00" height="11.60" fill="#000" fill-opacity="0.06"/>
<rect x="251.10" y="1463.60" width="3.00" height="11.60" fill="#fff" fill-opacity="0.03"/>
<rect x="255.60" y="1463.60" width="1.00" height="11.60" fill="#fff" fill-opacity="0.08"/>
<rect x="256.60" y="1463.60" width="2.00" height="11.60" fill="#fff" fill-opacity="0.10"/>
<rect x="258.60" y="1463.60" width="1.00" height="11.60" fill="#fff" fill-opacity="0.07"/>
<rect x="259.60" y="1463.60" width="3.00" height="11.60" fill="#000" fill-opacity="0.08"/>
<rect x="262.60" y="1463.60" width="1.00" height="11.60" fill="#fff" fill-opacity="0.05"/>
<rect x="271.60" y="1463.60" width="2.00" height="11.60" fill="#fff" fill-opacity="0.08"/>
<rect x="273.60" y="1463.60" width="1.50" height="11.60" fill="#fff" fill-opacity="0.08"/>
<rect x="279.10" y="1463.60" width="1.50" height="11.60" fill="#fff" fill-opacity="0.07"/>
<rect x="280.60" y="1463.60" width="3.00" height="11.60" fill="#fff" fill-opacity="0.09"/>
<rect x="283.60" y="1463.60" width="2.00" height="11.60" fill="#000" fill-opacity="0.04"/>
<rect x="286.60" y="1463.60" width="2.00" height="11.60" fill="#000" fill-opacity="0.05"/>
<rect x="288.60" y="1463.60" width="1.00" height="11.60" fill="#fff" fill-opacity="0.09"/>
<rect x="294.60" y="1463.60" width="1.50" height="11.60" fill="#fff" fill-opacity="0.03"/>
<rect x="297.10" y="1463.60" width="3.00" height="11.60" fill="#000" fill-opacity="0.07"/>
<rect x="300.10" y="1463.60" width="2.00" height="11.60" fill="#fff" fill-opacity="0.10"/>
<rect x="309.10" y="1463.60" width="1.00" height="11.60" fill="#fff" fill-opacity="0.04"/>
<rect x="314.10" y="1463.60" width="1.00" height="11.60" fill="#000" fill-opacity="0.03"/>
<rect x="320.10" y="1463.60" width="1.00" height="11.60" fill="#000" fill-opacity="0.03"/>
<rect x="321.10" y="1463.60" width="2.00" height="11.60" fill="#000" fill-opacity="0.09"/>
<rect x="327.10" y="1463.60" width="1.00" height="11.60" fill="#000" fill-opacity="0.03"/>
<rect x="331.10" y="1463.60" width="1.00" height="11.60" fill="#000" fill-opacity="0.07"/>
<rect x="334.10" y="1463.60" width="1.50" height="11.60" fill="#000" fill-opacity="0.07"/>
<rect x="340.10" y="1463.60" width="3.00" height="11.60" fill="#fff" fill-opacity="0.09"/>
<rect x="343.10" y="1463.60" width="3.00" height="11.60" fill="#fff" fill-opacity="0.07"/>
<rect x="347.60" y="1463.60" width="1.50" height="11.60" fill="#000" fill-opacity="0.04"/>
<rect x="354.10" y="1463.60" width="2.00" height="11.60" fill="#000" fill-opacity="0.05"/>
<rect x="356.10" y="1463.60" width="1.00" height="11.60" fill="#000" fill-opacity="0.05"/>
<rect x="358.60" y="1463.60" width="1.50" height="11.60" fill="#fff" fill-opacity="0.05"/>
<rect x="362.60" y="1463.60" width="1.00" height="11.60" fill="#000" fill-opacity="0.10"/>
<rect x="363.60" y="1463.60" width="2.00" height="11.60" fill="#fff" fill-opacity="0.06"/>
<rect x="365.60" y="1463.60" width="1.50" height="11.60" fill="#fff" fill-opacity="0.05"/>
<rect x="367.10" y="1463.60" width="1.50" height="11.60" fill="#000" fill-opacity="0.03"/>
<rect x="368.60" y="1463.60" width="1.50" height="11.60" fill="#000" fill-opacity="0.08"/>
<rect x="373.10" y="1463.60" width="2.00" height="11.60" fill="#fff" fill-opacity="0.10"/>
<rect x="375.10" y="1463.60" width="1.00" height="11.60" fill="#000" fill-opacity="0.05"/>
<rect x="376.10" y="1463.60" width="1.00" height="11.60" fill="#000" fill-opacity="0.04"/>
<rect x="377.10" y="1463.60" width="3.00" height="11.60" fill="#000" fill-opacity="0.08"/>
<rect x="84.10" y="1272.00" width="311.90" height="203.20" fill="none" stroke="#d0d0d0" stroke-width="1.5"/>
<line x1="84.10" y1="1415.60" x2="396.00" y2="1415.60" stroke="#c4c4c4" stroke-width="1.3"/>
<line x1="84.10" y1="1463.60" x2="396.00" y2="1463.60" stroke="#c4c4c4" stroke-width="1.3"/>
<line x1="81.60" y1="1283.45" x2="84.10" y2="1283.45" stroke="#555" stroke-width="1"/>
<line x1="81.60" y1="1298.00" x2="84.10" y2="1298.00" stroke="#555" stroke-width="1"/>
<line x1="81.60" y1="1312.55" x2="84.10" y2="1312.55" stroke="#555" stroke-width="1"/>
<line x1="81.60" y1="1327.10" x2="84.10" y2="1327.10" stroke="#555" stroke-width="1"/>
<line x1="81.60" y1="1341.65" x2="84.10" y2="1341.65" stroke="#555" stroke-width="1"/>
<line x1="81.60" y1="1356.20" x2="84.10" y2="1356.20" stroke="#555" stroke-width="1"/>
<line x1="81.60" y1="1370.75" x2="84.10" y2="1370.75" stroke="#555" stroke-width="1"/>
<line x1="81.60" y1="1385.30" x2="84.10" y2="1385.30" stroke="#555" stroke-width="1"/>
<line x1="81.60" y1="1399.85" x2="84.10" y2="1399.85" stroke="#555" stroke-width="1"/>
<line x1="81.60" y1="1414.40" x2="84.10" y2="1414.40" stroke="#555" stroke-width="1"/>
<text x="80.40" y="1304.30" font-size="14.8" text-anchor="end">0.00</text>
<text x="80.40" y="1333.40" font-size="14.8" text-anchor="end">-0.10</text>
<text x="80.40" y="1362.50" font-size="14.8" text-anchor="end">-0.20</text>
<text x="80.40" y="1391.60" font-size="14.8" text-anchor="end">-0.30</text>
<text x="80.40" y="1420.70" font-size="14.8" text-anchor="end">-0.40</text>
<polyline points="84.54,1297.84 85.16,1291.81 86.19,1285.53 87.74,1285.36 89.29,1285.10 90.84,1284.63 92.39,1283.24 93.93,1283.25 95.48,1281.86 97.03,1281.24 98.58,1280.25 99.96,1279.50 101.33,1279.86 102.71,1278.77 104.08,1279.92 105.46,1280.64 106.84,1280.14 108.39,1281.70 109.93,1282.26 111.48,1282.73 113.03,1282.51 114.58,1282.49 116.13,1282.11 117.85,1282.54 119.57,1283.33 121.29,1284.35 122.84,1284.94 124.38,1286.36 125.93,1286.41 127.48,1287.19 129.03,1288.12 130.58,1289.16 132.13,1288.86 133.67,1289.13 135.05,1290.78 136.43,1290.93 137.80,1291.21 139.18,1291.18 140.56,1291.12 141.93,1291.35 143.31,1291.91 144.68,1292.47 146.06,1292.26 147.44,1293.49 148.81,1293.88 150.19,1293.22 151.74,1294.90 153.29,1294.92 154.83,1296.04 156.38,1295.93 157.93,1297.41 159.48,1297.97 161.03,1299.22 162.58,1300.09 164.05,1299.87 165.53,1300.48 167.00,1301.05 168.47,1301.73 169.95,1302.12 171.42,1302.80 172.90,1303.41 174.27,1303.57 175.65,1303.97 177.03,1304.76 178.40,1305.89 179.78,1306.17 181.16,1306.51 182.53,1307.42 183.91,1307.28 185.28,1307.79 186.66,1308.47 188.04,1309.20 189.41,1309.73 190.86,1311.21 192.30,1312.24 193.75,1311.73 195.19,1313.16 196.64,1314.13 198.08,1314.92 199.53,1315.09 200.97,1316.80 202.42,1317.30 203.86,1318.22 205.34,1319.17 206.81,1321.07 208.29,1322.80 209.76,1322.84 211.24,1324.08 212.71,1325.60 214.19,1326.29 215.66,1328.21 217.14,1329.91 218.61,1330.86 220.08,1331.60 221.56,1332.91 223.03,1334.47 224.51,1336.46 225.98,1338.20 227.46,1339.00 228.93,1339.83 230.41,1341.37 231.88,1343.03 233.36,1343.99 234.83,1345.39 236.31,1347.25 237.78,1349.23 239.25,1349.80 240.73,1352.12 242.20,1353.53 243.68,1354.32 245.15,1355.45 246.63,1356.81 248.10,1358.90 249.58,1360.54 251.05,1362.00 252.53,1362.50 254.00,1364.22 255.47,1365.07 256.95,1366.71 258.42,1367.93 259.90,1368.93 261.37,1370.10 262.85,1372.63 264.32,1372.90 265.80,1374.41 267.27,1375.58 268.75,1376.62 270.22,1377.90 271.70,1378.90 273.17,1380.00 274.64,1380.55 276.12,1382.44 277.59,1383.44 279.07,1384.46 280.54,1384.83 282.02,1385.98 283.49,1387.41 284.97,1388.24 286.44,1388.24 287.92,1389.67 289.39,1390.47 290.86,1392.26 292.34,1392.86 293.81,1393.87 295.29,1394.67 296.76,1396.03 298.24,1397.28 299.71,1398.04 301.19,1398.35 302.66,1399.48 304.14,1400.69 305.61,1400.78 307.09,1402.85 308.63,1402.49 310.18,1404.21 311.73,1404.42 313.28,1406.43 314.65,1406.47 316.03,1406.23 317.41,1407.04 319.13,1407.65 320.85,1407.80 322.57,1407.67 324.29,1407.64 326.01,1407.78 327.73,1408.03 329.28,1406.84 330.83,1406.37 332.37,1406.00 333.92,1404.98 335.47,1403.39 337.02,1402.71 338.57,1401.19 340.12,1400.52 341.66,1399.53 343.21,1398.72 344.76,1396.57 346.31,1395.42 347.69,1395.66 349.06,1394.35 350.44,1393.69 352.16,1394.46 353.88,1395.69 355.60,1395.61 357.15,1392.55 358.70,1390.05 360.76,1385.10 362.31,1380.59 363.86,1378.14 365.40,1373.52 366.95,1369.87 368.50,1365.03 370.05,1359.52 371.60,1355.26 373.15,1351.12 375.62,1332.47 377.27,1316.12 378.93,1306.54 380.37,1298.03" fill="none" stroke="#66ee44" stroke-width="2.3" stroke-linejoin="round"/>
<text x="228.90" y="1237.90" font-size="19.5" text-anchor="middle">Enrichment Plot:</text>
<text x="230.20" y="1265.80" font-size="19.5" text-anchor="middle">Intestinal Stem (Muñoz et al. )</text>
<text x="256.20" y="1291.00" font-size="20.9" fill="#0b24cc">NES: -1.85</text>
<text x="254.00" y="1314.30" font-size="20.9" fill="#0b24cc">p-value: 0.000</text>
<text x="33.70" y="1367.10" font-size="20.4" text-anchor="middle" transform="rotate(-90 33.70 1367.10)">Enrichmen Score (ES)</text>
<text x="83.70" y="1490.60" font-size="14.9" fill="#e0401c">T positive correlated</text>
<text x="237.60" y="1490.60" font-size="14.9" fill="#2a2ae6">C negative correlated</text>
<text x="0.10" y="1221.40" font-size="37">F</text>
<rect x="573.70" y="1280.40" width="309.30" height="200.70" fill="#fff"/>
<line x1="573.70" y1="1300.10" x2="883.00" y2="1300.10" stroke="#cfcfcf" stroke-width="1" stroke-dasharray="2 2"/>
<line x1="573.70" y1="1351.90" x2="883.00" y2="1351.90" stroke="#cfcfcf" stroke-width="1" stroke-dasharray="2 2"/>
<line x1="573.70" y1="1377.80" x2="883.00" y2="1377.80" stroke="#cfcfcf" stroke-width="1" stroke-dasharray="2 2"/>
<line x1="573.70" y1="1403.70" x2="883.00" y2="1403.70" stroke="#cfcfcf" stroke-width="1" stroke-dasharray="2 2"/>
<line x1="638.82" y1="1280.40" x2="638.82" y2="1422.00" stroke="#d6d6d6" stroke-width="1" stroke-dasharray="2 2"/>
<line x1="703.93" y1="1280.40" x2="703.93" y2="1422.00" stroke="#d6d6d6" stroke-width="1" stroke-dasharray="2 2"/>
<line x1="769.05" y1="1280.40" x2="769.05" y2="1422.00" stroke="#d6d6d6" stroke-width="1" stroke-dasharray="2 2"/>
<line x1="834.16" y1="1280.40" x2="834.16" y2="1422.00" stroke="#d6d6d6" stroke-width="1" stroke-dasharray="2 2"/>
<line x1="573.70" y1="1326.00" x2="883.00" y2="1326.00" stroke="#9a9a9a" stroke-width="1.3"/>
<rect x="574.50" y="1423.20" width="1.20" height="45.30" fill="#aaaaaa"/>
<rect x="577.58" y="1423.20" width="1.20" height="45.30" fill="#5a5a5a"/>
<rect x="581.98" y="1423.20" width="1.20" height="45.30" fill="#1e1e1e"/>
<rect x="587.95" y="1423.20" width="1.20" height="45.30" fill="#5a5a5a"/>
<rect x="590.71" y="1423.20" width="1.50" height="45.30" fill="#141414"/>
<rect x="594.19" y="1423.20" width="1.50" height="45.30" fill="#5a5a5a"/>
<rect x="597.28" y="1423.20" width="1.50" height="45.30" fill="#323232"/>
<rect x="600.00" y="1423.20" width="1.00" height="45.30" fill="#aaaaaa"/>
<rect x="603.18" y="1423.20" width="1.20" height="45.30" fill="#969696"/>
<rect x="607.24" y="1423.20" width="1.00" height="45.30" fill="#969696"/>
<rect x="612.05" y="1423.20" width="1.20" height="45.30" fill="#787878"/>
<rect x="616.66" y="1423.20" width="1.20" height="45.30" fill="#787878"/>
<rect x="620.29" y="1423.20" width="1.50" height="45.30" fill="#1e1e1e"/>
<rect x="627.37" y="1423.20" width="1.50" height="45.30" fill="#969696"/>
<rect x="630.00" y="1423.20" width="1.00" height="45.30" fill="#aaaaaa"/>
<rect x="633.30" y="1423.20" width="1.20" height="45.30" fill="#969696"/>
<rect x="639.67" y="1423.20" width="1.00" height="45.30" fill="#787878"/>
<rect x="642.69" y="1423.20" width="0.90" height="45.30" fill="#5a5a5a"/>
<rect x="645.26" y="1423.20" width="1.20" height="45.30" fill="#787878"/>
<rect x="649.23" y="1423.20" width="1.20" height="45.30" fill="#141414"/>
<rect x="653.59" y="1423.20" width="1.20" height="45.30" fill="#787878"/>
<rect x="657.66" y="1423.20" width="1.50" height="45.30" fill="#787878"/>
<rect x="661.64" y="1423.20" width="1.00" height="45.30" fill="#141414"/>
<rect x="666.93" y="1423.20" width="0.90" height="45.30" fill="#969696"/>
<rect x="672.91" y="1423.20" width="1.50" height="45.30" fill="#1e1e1e"/>
<rect x="677.39" y="1423.20" width="1.00" height="45.30" fill="#969696"/>
<rect x="682.55" y="1423.20" width="1.50" height="45.30" fill="#1e1e1e"/>
<rect x="687.58" y="1423.20" width="0.90" height="45.30" fill="#141414"/>
<rect x="690.00" y="1423.20" width="1.50" height="45.30" fill="#141414"/>
<rect x="695.64" y="1423.20" width="1.00" height="45.30" fill="#969696"/>
<rect x="699.73" y="1423.20" width="1.00" height="45.30" fill="#aaaaaa"/>
<rect x="708.91" y="1423.20" width="0.90" height="45.30" fill="#787878"/>
<rect x="719.42" y="1423.20" width="1.50" height="45.30" fill="#969696"/>
<rect x="724.57" y="1423.20" width="0.90" height="45.30" fill="#aaaaaa"/>
<rect x="731.11" y="1423.20" width="1.00" height="45.30" fill="#141414"/>
<rect x="735.64" y="1423.20" width="1.50" height="45.30" fill="#787878"/>
<rect x="740.00" y="1423.20" width="1.50" height="45.30" fill="#323232"/>
<rect x="744.19" y="1423.20" width="0.90" height="45.30" fill="#787878"/>
<rect x="749.50" y="1423.20" width="1.00" height="45.30" fill="#969696"/>
<rect x="754.99" y="1423.20" width="1.00" height="45.30" fill="#323232"/>
<rect x="758.04" y="1423.20" width="1.00" height="45.30" fill="#141414"/>
<rect x="762.98" y="1423.20" width="1.20" height="45.30" fill="#969696"/>
<rect x="770.59" y="1423.20" width="1.00" height="45.30" fill="#787878"/>
<rect x="776.87" y="1423.20" width="1.50" height="45.30" fill="#141414"/>
<rect x="783.69" y="1423.20" width="1.00" height="45.30" fill="#787878"/>
<rect x="787.81" y="1423.20" width="1.50" height="45.30" fill="#323232"/>
<rect x="790.00" y="1423.20" width="0.90" height="45.30" fill="#aaaaaa"/>
<rect x="792.90" y="1423.20" width="0.90" height="45.30" fill="#969696"/>
<rect x="795.28" y="1423.20" width="1.50" height="45.30" fill="#1e1e1e"/>
<rect x="798.36" y="1423.20" width="0.90" height="45.30" fill="#323232"/>
<rect x="802.23" y="1423.20" width="0.90" height="45.30" fill="#1e1e1e"/>
<rect x="807.23" y="1423.20" width="1.50" height="45.30" fill="#aaaaaa"/>
<rect x="811.31" y="1423.20" width="1.20" height="45.30" fill="#141414"/>
<rect x="814.69" y="1423.20" width="0.90" height="45.30" fill="#aaaaaa"/>
<rect x="819.94" y="1423.20" width="1.50" height="45.30" fill="#1e1e1e"/>
<rect x="825.22" y="1423.20" width="0.90" height="45.30" fill="#1e1e1e"/>
<rect x="829.41" y="1423.20" width="1.50" height="45.30" fill="#141414"/>
<rect x="833.38" y="1423.20" width="1.20" height="45.30" fill="#5a5a5a"/>
<rect x="837.67" y="1423.20" width="1.00" height="45.30" fill="#787878"/>
<rect x="840.00" y="1423.20" width="1.20" height="45.30" fill="#141414"/>
<rect x="842.15" y="1423.20" width="0.90" height="45.30" fill="#aaaaaa"/>
<rect x="845.33" y="1423.20" width="1.50" height="45.30" fill="#aaaaaa"/>
<rect x="847.37" y="1423.20" width="1.50" height="45.30" fill="#787878"/>
<rect x="850.19" y="1423.20" width="1.20" height="45.30" fill="#5a5a5a"/>
<rect x="852.59" y="1423.20" width="1.20" height="45.30" fill="#323232"/>
<rect x="856.21" y="1423.20" width="1.20" height="45.30" fill="#1e1e1e"/>
<rect x="858.69" y="1423.20" width="1.50" height="45.30" fill="#aaaaaa"/>
<rect x="862.02" y="1423.20" width="1.20" height="45.30" fill="#787878"/>
<rect x="864.28" y="1423.20" width="0.90" height="45.30" fill="#5a5a5a"/>
<rect x="866.11" y="1423.20" width="1.20" height="45.30" fill="#aaaaaa"/>
<rect x="868.10" y="1423.20" width="1.20" height="45.30" fill="#141414"/>
<defs><linearGradient id="cbH" x1="0" x2="1" y1="0" y2="0"><stop offset="0.000" stop-color="#dd4444"/><stop offset="0.180" stop-color="#e65c5c"/><stop offset="0.190" stop-color="#e0707a"/><stop offset="0.360" stop-color="#e8848c"/><stop offset="0.370" stop-color="#e8b2d2"/><stop offset="0.520" stop-color="#efbde0"/><stop offset="0.530" stop-color="#c8c8ee"/><stop offset="0.740" stop-color="#babaf0"/><stop offset="0.750" stop-color="#8080ea"/><stop offset="0.820" stop-color="#6a6ae0"/><stop offset="0.830" stop-color="#5050d8"/><stop offset="0.950" stop-color="#4040c8"/><stop offset="0.960" stop-color="#2020a8"/><stop offset="1.000" stop-color="#1a1aa0"/></linearGradient></defs>
<rect x="573.70" y="1469.00" width="295.00" height="12.10" fill="url(#cbH)"/>
<rect x="574.70" y="1469.00" width="1.50" height="12.10" fill="#fff" fill-opacity="0.06"/>
<rect x="576.20" y="1469.00" width="1.00" height="12.10" fill="#fff" fill-opacity="0.09"/>
<rect x="577.20" y="1469.00" width="3.00" height="12.10" fill="#000" fill-opacity="0.08"/>
<rect x="586.20" y="1469.00" width="1.50" height="12.10" fill="#000" fill-opacity="0.03"/>
<rect x="588.70" y="1469.00" width="3.00" height="12.10" fill="#000" fill-opacity="0.03"/>
<rect x="591.70" y="1469.00" width="2.00" height="12.10" fill="#000" fill-opacity="0.08"/>
<rect x="593.70" y="1469.00" width="3.00" height="12.10" fill="#fff" fill-opacity="0.08"/>
<rect x="597.70" y="1469.00" width="2.00" height="12.10" fill="#000" fill-opacity="0.05"/>
<rect x="602.70" y="1469.00" width="2.00" height="12.10" fill="#000" fill-opacity="0.06"/>
<rect x="604.70" y="1469.00" width="1.50" height="12.10" fill="#fff" fill-opacity="0.04"/>
<rect x="606.20" y="1469.00" width="1.00" height="12.10" fill="#000" fill-opacity="0.07"/>
<rect x="607.20" y="1469.00" width="1.50" height="12.10" fill="#000" fill-opacity="0.03"/>
<rect x="611.70" y="1469.00" width="3.00" height="12.10" fill="#fff" fill-opacity="0.05"/>
<rect x="616.70" y="1469.00" width="1.50" height="12.10" fill="#000" fill-opacity="0.08"/>
<rect x="624.70" y="1469.00" width="1.00" height="12.10" fill="#000" fill-opacity="0.03"/>
<rect x="632.20" y="1469.00" width="3.00" height="12.10" fill="#fff" fill-opacity="0.06"/>
<rect x="635.20" y="1469.00" width="2.00" height="12.10" fill="#fff" fill-opacity="0.07"/>
<rect x="637.20" y="1469.00" width="1.50" height="12.10" fill="#fff" fill-opacity="0.05"/>
<rect x="638.70" y="1469.00" width="2.00" height="12.10" fill="#fff" fill-opacity="0.03"/>
<rect x="644.70" y="1469.00" width="2.00" height="12.10" fill="#000" fill-opacity="0.05"/>
<rect x="646.70" y="1469.00" width="1.50" height="12.10" fill="#000" fill-opacity="0.06"/>
<rect x="648.20" y="1469.00" width="1.00" height="12.10" fill="#fff" fill-opacity="0.05"/>
<rect x="649.20" y="1469.00" width="1.00" height="12.10" fill="#000" fill-opacity="0.09"/>
<rect x="653.70" y="1469.00" width="1.00" height="12.10" fill="#000" fill-opacity="0.05"/>
<rect x="654.70" y="1469.00" width="1.00" height="12.10" fill="#fff" fill-opacity="0.03"/>
<rect x="655.70" y="1469.00" width="1.00" height="12.10" fill="#000" fill-opacity="0.08"/>
<rect x="656.70" y="1469.00" width="2.00" height="12.10" fill="#fff" fill-opacity="0.07"/>
<rect x="658.70" y="1469.00" width="2.00" height="12.10" fill="#fff" fill-opacity="0.03"/>
<rect x="660.70" y="1469.00" width="1.50" height="12.10" fill="#fff" fill-opacity="0.07"/>
<rect x="662.20" y="1469.00" width="1.50" height="12.10" fill="#000" fill-opacity="0.07"/>
<rect x="663.70" y="1469.00" width="1.50" height="12.10" fill="#fff" fill-opacity="0.09"/>
<rect x="665.20" y="1469.00" width="2.00" height="12.10" fill="#000" fill-opacity="0.05"/>
<rect x="667.20" y="1469.00" width="1.00" height="12.10" fill="#fff" fill-opacity="0.09"/>
<rect x="670.20" y="1469.00" width="1.50" height="12.10" fill="#fff" fill-opacity="0.04"/>
<rect x="673.70" y="1469.00" width="3.00" height="12.10" fill="#fff" fill-opacity="0.05"/>
<rect x="676.70" y="1469.00" width="1.50" height="12.10" fill="#000" fill-opacity="0.04"/>
<rect x="678.20" y="1469.00" width="1.50" height="12.10" fill="#000" fill-opacity="0.10"/>
<rect x="679.70" y="1469.00" width="1.00" height="12.10" fill="#000" fill-opacity="0.06"/>
<rect x="680.70" y="1469.00" width="3.00" height="12.10" fill="#fff" fill-opacity="0.07"/>
<rect x="692.20" y="1469.00" width="2.00" height="12.10" fill="#000" fill-opacity="0.08"/>
<rect x="697.20" y="1469.00" width="2.00" height="12.10" fill="#000" fill-opacity="0.09"/>
<rect x="699.20" y="1469.00" width="3.00" height="12.10" fill="#fff" fill-opacity="0.07"/>
<rect x="705.20" y="1469.00" width="1.00" height="12.10" fill="#fff" fill-opacity="0.05"/>
<rect x="706.20" y="1469.00" width="3.00" height="12.10" fill="#fff" fill-opacity="0.04"/>
<rect x="710.20" y="1469.00" width="1.50" height="12.10" fill="#fff" fill-opacity="0.04"/>
<rect x="713.20" y="1469.00" width="1.50" height="12.10" fill="#000" fill-opacity="0.07"/>
<rect x="717.70" y="1469.00" width="1.50" height="12.10" fill="#000" fill-opacity="0.07"/>
<rect x="719.20" y="1469.00" width="1.00" height="12.10" fill="#fff" fill-opacity="0.08"/>
<rect x="720.20" y="1469.00" width="2.00" height="12.10" fill="#fff" fill-opacity="0.09"/>
<rect x="722.20" y="1469.00" width="1.50" height="12.10" fill="#000" fill-opacity="0.07"/>
<rect x="723.70" y="1469.00" width="1.00" height="12.10" fill="#000" fill-opacity="0.04"/>
<rect x="724.70" y="1469.00" width="1.50" height="12.10" fill="#fff" fill-opacity="0.06"/>
<rect x="726.20" y="1469.00" width="1.50" height="12.10" fill="#fff" fill-opacity="0.05"/>
<rect x="729.70" y="1469.00" width="1.50" height="12.10" fill="#000" fill-opacity="0.09"/>
<rect x="737.20" y="1469.00" width="1.00" height="12.10" fill="#000" fill-opacity="0.06"/>
<rect x="739.20" y="1469.00" width="1.50" height="12.10" fill="#fff" fill-opacity="0.10"/>
<rect x="740.70" y="1469.00" width="3.00" height="12.10" fill="#fff" fill-opacity="0.10"/>
<rect x="747.20" y="1469.00" width="2.00" height="12.10" fill="#fff" fill-opacity="0.06"/>
<rect x="751.20" y="1469.00" width="1.00" height="12.10" fill="#fff" fill-opacity="0.09"/>
<rect x="752.20" y="1469.00" width="1.00" height="12.10" fill="#000" fill-opacity="0.04"/>
<rect x="754.70" y="1469.00" width="2.00" height="12.10" fill="#000" fill-opacity="0.03"/>
<rect x="756.70" y="1469.00" width="1.00" height="12.10" fill="#000" fill-opacity="0.03"/>
<rect x="758.70" y="1469.00" width="3.00" height="12.10" fill="#000" fill-opacity="0.07"/>
<rect x="767.70" y="1469.00" width="1.00" height="12.10" fill="#000" fill-opacity="0.04"/>
<rect x="768.70" y="1469.00" width="3.00" height="12.10" fill="#fff" fill-opacity="0.06"/>
<rect x="773.70" y="1469.00" width="1.00" height="12.10" fill="#000" fill-opacity="0.09"/>
<rect x="775.70" y="1469.00" width="1.50" height="12.10" fill="#000" fill-opacity="0.08"/>
<rect x="778.20" y="1469.00" width="1.00" height="12.10" fill="#000" fill-opacity="0.04"/>
<rect x="779.20" y="1469.00" width="1.50" height="12.10" fill="#fff" fill-opacity="0.08"/>
<rect x="780.70" y="1469.00" width="1.00" height="12.10" fill="#fff" fill-opacity="0.09"/>
<rect x="781.70" y="1469.00" width="1.50" height="12.10" fill="#000" fill-opacity="0.07"/>
<rect x="783.20" y="1469.00" width="3.00" height="12.10" fill="#fff" fill-opacity="0.07"/>
<rect x="791.70" y="1469.00" width="1.00" height="12.10" fill="#fff" fill-opacity="0.08"/>
<rect x="792.70" y="1469.00" width="1.50" height="12.10" fill="#fff" fill-opacity="0.03"/>
<rect x="794.20" y="1469.00" width="1.00" height="12.10" fill="#000" fill-opacity="0.06"/>
<rect x="795.20" y="1469.00" width="3.00" height="12.10" fill="#fff" fill-opacity="0.03"/>
<rect x="801.20" y="1469.00" width="3.00" height="12.10" fill="#000" fill-opacity="0.06"/>
<rect x="808.20" y="1469.00" width="1.50" height="12.10" fill="#000" fill-opacity="0.03"/>
<rect x="809.70" y="1469.00" width="1.50" height="12.10" fill="#fff" fill-opacity="0.09"/>
<rect x="817.70" y="1469.00" width="1.50" height="12.10" fill="#fff" fill-opacity="0.08"/>
<rect x="826.20" y="1469.00" width="2.00" height="12.10" fill="#000" fill-opacity="0.07"/>
<rect x="828.20" y="1469.00" width="1.00" height="12.10" fill="#fff" fill-opacity="0.04"/>
<rect x="829.20" y="1469.00" width="3.00" height="12.10" fill="#000" fill-opacity="0.08"/>
<rect x="832.20" y="1469.00" width="1.00" height="12.10" fill="#fff" fill-opacity="0.08"/>
<rect x="833.20" y="1469.00" width="2.00" height="12.10" fill="#fff" fill-opacity="0.04"/>
<rect x="838.70" y="1469.00" width="2.00" height="12.10" fill="#fff" fill-opacity="0.10"/>
<rect x="840.70" y="1469.00" width="3.00" height="12.10" fill="#fff" fill-opacity="0.10"/>
<rect x="847.20" y="1469.00" width="1.50" height="12.10" fill="#000" fill-opacity="0.05"/>
<rect x="848.70" y="1469.00" width="2.00" height="12.10" fill="#fff" fill-opacity="0.07"/>
<rect x="852.70" y="1469.00" width="1.50" height="12.10" fill="#000" fill-opacity="0.06"/>
<rect x="855.70" y="1469.00" width="2.00" height="12.10" fill="#000" fill-opacity="0.08"/>
<rect x="857.70" y="1469.00" width="3.00" height="12.10" fill="#fff" fill-opacity="0.10"/>
<rect x="863.70" y="1469.00" width="3.00" height="12.10" fill="#fff" fill-opacity="0.03"/>
<rect x="573.70" y="1280.40" width="309.30" height="200.70" fill="none" stroke="#d0d0d0" stroke-width="1.5"/>
<line x1="573.70" y1="1422.00" x2="883.00" y2="1422.00" stroke="#c4c4c4" stroke-width="1.3"/>
<line x1="573.70" y1="1469.00" x2="883.00" y2="1469.00" stroke="#c4c4c4" stroke-width="1.3"/>
<line x1="571.20" y1="1300.10" x2="573.70" y2="1300.10" stroke="#555" stroke-width="1"/>
<line x1="571.20" y1="1326.00" x2="573.70" y2="1326.00" stroke="#555" stroke-width="1"/>
<line x1="571.20" y1="1351.90" x2="573.70" y2="1351.90" stroke="#555" stroke-width="1"/>
<line x1="571.20" y1="1377.80" x2="573.70" y2="1377.80" stroke="#555" stroke-width="1"/>
<line x1="571.20" y1="1403.70" x2="573.70" y2="1403.70" stroke="#555" stroke-width="1"/>
<text x="568.50" y="1306.40" font-size="14.8" text-anchor="end">0.10</text>
<text x="568.50" y="1332.30" font-size="14.8" text-anchor="end">0.00</text>
<text x="568.50" y="1358.20" font-size="14.8" text-anchor="end">-0.10</text>
<text x="568.50" y="1384.10" font-size="14.8" text-anchor="end">-0.20</text>
<text x="568.50" y="1410.00" font-size="14.8" text-anchor="end">-0.30</text>
<polyline points="574.61,1325.90 574.91,1316.83 575.52,1314.45 577.64,1309.32 579.16,1309.26 580.67,1309.72 582.80,1311.78 585.22,1312.40 587.65,1308.10 589.77,1305.09 591.29,1303.19 592.80,1302.36 594.32,1301.53 596.74,1294.24 598.87,1291.01 600.99,1288.31 603.41,1288.28 604.93,1290.75 607.05,1292.57 609.48,1295.17 611.90,1290.68 614.03,1288.81 616.15,1290.29 618.57,1291.26 620.70,1289.08 623.12,1290.31 624.64,1291.36 626.16,1293.02 627.67,1295.39 629.19,1296.51 630.70,1297.31 632.22,1298.38 633.74,1299.63 635.25,1299.45 636.77,1298.53 638.28,1298.23 639.80,1297.18 641.32,1298.16 642.83,1298.40 644.35,1300.13 645.86,1300.80 647.38,1300.80 648.90,1301.41 650.41,1301.45 651.93,1302.62 653.44,1302.72 654.96,1302.42 656.48,1301.73 657.99,1301.73 659.51,1303.78 661.02,1304.18 662.54,1306.09 664.06,1307.03 665.57,1307.80 667.09,1309.35 668.61,1310.95 670.12,1310.73 671.64,1311.83 673.15,1312.56 674.67,1312.58 676.19,1313.26 677.70,1314.29 679.22,1314.64 680.73,1314.95 682.25,1315.59 683.77,1316.06 685.28,1316.94 686.80,1318.20 688.31,1318.51 689.83,1320.59 691.35,1321.00 692.86,1322.13 694.38,1324.47 695.89,1324.45 697.41,1326.32 698.93,1327.73 700.44,1328.79 701.96,1330.55 703.47,1331.54 704.99,1332.52 706.51,1333.03 708.02,1335.61 709.54,1335.96 711.06,1337.17 712.57,1338.18 714.09,1339.36 715.60,1340.44 717.12,1341.70 718.64,1343.67 720.15,1344.35 721.67,1345.87 723.18,1347.28 724.70,1347.68 726.22,1349.85 727.73,1350.28 729.25,1352.40 730.76,1353.79 732.28,1354.46 733.80,1355.54 735.31,1357.08 736.83,1358.90 738.34,1360.29 739.86,1361.19 741.38,1362.03 742.89,1363.30 744.41,1364.93 745.92,1365.63 747.44,1367.48 748.96,1368.07 750.47,1369.61 751.99,1370.74 753.51,1371.96 755.02,1373.62 756.54,1374.90 758.05,1375.96 759.57,1376.86 761.09,1377.61 762.60,1378.69 764.12,1379.88 765.63,1381.51 767.15,1382.57 768.67,1382.88 770.18,1384.30 771.70,1385.26 773.21,1386.82 774.73,1388.64 776.25,1389.45 777.76,1389.69 779.28,1391.81 780.79,1392.71 782.31,1393.73 783.83,1394.32 785.34,1395.51 786.86,1396.80 788.37,1399.14 789.89,1399.49 791.41,1400.01 792.92,1402.08 794.44,1402.02 795.96,1402.23 797.47,1402.71 798.99,1402.75 800.50,1402.81 802.02,1404.17 803.54,1404.61 805.05,1404.16 806.57,1404.78 808.08,1405.50 809.60,1404.62 811.12,1406.28 812.63,1405.35 814.15,1406.32 815.66,1406.49 817.18,1407.29 818.70,1407.84 820.21,1408.88 821.73,1410.07 823.24,1411.23 824.76,1411.95 826.28,1412.74 827.79,1413.49 829.31,1412.47 830.82,1412.67 832.34,1412.53 833.86,1411.54 835.37,1411.91 836.89,1413.63 838.71,1414.09 840.53,1414.81 842.95,1410.04 844.47,1405.73 845.99,1402.07 847.50,1398.73 849.02,1396.08 850.53,1392.90 852.05,1390.19 853.57,1388.37 855.08,1385.97 856.60,1382.01 858.11,1378.11 859.63,1375.47 861.15,1371.46 862.66,1368.77 864.18,1363.87 865.69,1361.85 867.21,1355.24 867.82,1344.92 868.42,1333.18 868.73,1326.45" fill="none" stroke="#66ee44" stroke-width="2.3" stroke-linejoin="round"/>
<text x="711.00" y="1244.00" font-size="19.5" text-anchor="middle">Enrichment Plot:</text>
<text x="711.00" y="1271.90" font-size="19.5" text-anchor="middle">Fetal DOWN (Mustata et al.)</text>
<text x="745.30" y="1301.60" font-size="20.9" fill="#0b24cc">NES: -1.53</text>
<text x="746.50" y="1322.50" font-size="20.9" fill="#0b24cc">p-value: 0.000</text>
<text x="526.30" y="1369.70" font-size="20.9" text-anchor="middle" transform="rotate(-90 526.30 1369.70)">Enrichment Score (ES)</text>
<text x="573.70" y="1493.20" font-size="14.9" fill="#e0401c">T positive correlated</text>
<text x="723.20" y="1493.20" font-size="14.9" fill="#2a2ae6">C negative correlated</text>
<text x="473.80" y="1221.40" font-size="37">H</text>
<rect x="1044.60" y="1280.00" width="296.30" height="193.50" fill="#fff"/>
<line x1="1044.60" y1="1282.94" x2="1340.90" y2="1282.94" stroke="#cfcfcf" stroke-width="1" stroke-dasharray="2 2"/>
<line x1="1044.60" y1="1296.46" x2="1340.90" y2="1296.46" stroke="#cfcfcf" stroke-width="1" stroke-dasharray="2 2"/>
<line x1="1044.60" y1="1309.98" x2="1340.90" y2="1309.98" stroke="#cfcfcf" stroke-width="1" stroke-dasharray="2 2"/>
<line x1="1044.60" y1="1323.50" x2="1340.90" y2="1323.50" stroke="#cfcfcf" stroke-width="1" stroke-dasharray="2 2"/>
<line x1="1044.60" y1="1337.02" x2="1340.90" y2="1337.02" stroke="#cfcfcf" stroke-width="1" stroke-dasharray="2 2"/>
<line x1="1044.60" y1="1350.54" x2="1340.90" y2="1350.54" stroke="#cfcfcf" stroke-width="1" stroke-dasharray="2 2"/>
<line x1="1044.60" y1="1364.06" x2="1340.90" y2="1364.06" stroke="#cfcfcf" stroke-width="1" stroke-dasharray="2 2"/>
<line x1="1044.60" y1="1377.58" x2="1340.90" y2="1377.58" stroke="#cfcfcf" stroke-width="1" stroke-dasharray="2 2"/>
<line x1="1044.60" y1="1404.62" x2="1340.90" y2="1404.62" stroke="#cfcfcf" stroke-width="1" stroke-dasharray="2 2"/>
<line x1="1106.98" y1="1280.00" x2="1106.98" y2="1415.90" stroke="#d6d6d6" stroke-width="1" stroke-dasharray="2 2"/>
<line x1="1169.36" y1="1280.00" x2="1169.36" y2="1415.90" stroke="#d6d6d6" stroke-width="1" stroke-dasharray="2 2"/>
<line x1="1231.74" y1="1280.00" x2="1231.74" y2="1415.90" stroke="#d6d6d6" stroke-width="1" stroke-dasharray="2 2"/>
<line x1="1294.12" y1="1280.00" x2="1294.12" y2="1415.90" stroke="#d6d6d6" stroke-width="1" stroke-dasharray="2 2"/>
<line x1="1044.60" y1="1391.10" x2="1340.90" y2="1391.10" stroke="#9a9a9a" stroke-width="1.3"/>
<rect x="1046.00" y="1417.10" width="1.00" height="43.80" fill="#5a5a5a" shape-rendering="crispEdges"/>
<rect x="1048.00" y="1417.10" width="1.00" height="43.80" fill="#969696" shape-rendering="crispEdges"/>
<rect x="1049.00" y="1417.10" width="1.00" height="43.80" fill="#191919" shape-rendering="crispEdges"/>
<rect x="1050.00" y="1417.10" width="1.00" height="43.80" fill="#969696" shape-rendering="crispEdges"/>
<rect x="1054.00" y="1417.10" width="1.00" height="43.80" fill="#000000" shape-rendering="crispEdges"/>
<rect x="1055.00" y="1417.10" width="3.00" height="43.80" fill="#0a0a0a" shape-rendering="crispEdges"/>
<rect x="1063.00" y="1417.10" width="1.00" height="43.80" fill="#5a5a5a" shape-rendering="crispEdges"/>
<rect x="1066.00" y="1417.10" width="1.00" height="43.80" fill="#5a5a5a" shape-rendering="crispEdges"/>
<rect x="1067.00" y="1417.10" width="3.00" height="43.80" fill="#0a0a0a" shape-rendering="crispEdges"/>
<rect x="1070.00" y="1417.10" width="3.00" height="43.80" fill="#000000" shape-rendering="crispEdges"/>
<rect x="1073.00" y="1417.10" width="2.00" height="43.80" fill="#000000" shape-rendering="crispEdges"/>
<rect x="1076.00" y="1417.10" width="1.00" height="43.80" fill="#787878" shape-rendering="crispEdges"/>
<rect x="1077.00" y="1417.10" width="1.00" height="43.80" fill="#969696" shape-rendering="crispEdges"/>
<rect x="1078.00" y="1417.10" width="1.00" height="43.80" fill="#969696" shape-rendering="crispEdges"/>
<rect x="1079.00" y="1417.10" width="1.00" height="43.80" fill="#969696" shape-rendering="crispEdges"/>
<rect x="1080.00" y="1417.10" width="1.00" height="43.80" fill="#191919" shape-rendering="crispEdges"/>
<rect x="1081.00" y="1417.10" width="2.00" height="43.80" fill="#000000" shape-rendering="crispEdges"/>
<rect x="1083.00" y="1417.10" width="1.00" height="43.80" fill="#000000" shape-rendering="crispEdges"/>
<rect x="1084.00" y="1417.10" width="1.00" height="43.80" fill="#000000" shape-rendering="crispEdges"/>
<rect x="1085.00" y="1417.10" width="1.00" height="43.80" fill="#0a0a0a" shape-rendering="crispEdges"/>
<rect x="1086.00" y="1417.10" width="1.00" height="43.80" fill="#000000" shape-rendering="crispEdges"/>
<rect x="1087.00" y="1417.10" width="1.00" height="43.80" fill="#000000" shape-rendering="crispEdges"/>
<rect x="1090.00" y="1417.10" width="3.00" height="43.80" fill="#000000" shape-rendering="crispEdges"/>
<rect x="1093.00" y="1417.10" width="2.00" height="43.80" fill="#000000" shape-rendering="crispEdges"/>
<rect x="1095.00" y="1417.10" width="1.00" height="43.80" fill="#191919" shape-rendering="crispEdges"/>
<rect x="1096.00" y="1417.10" width="3.00" height="43.80" fill="#000000" shape-rendering="crispEdges"/>
<rect x="1099.00" y="1417.10" width="1.00" height="43.80" fill="#000000" shape-rendering="crispEdges"/>
<rect x="1100.00" y="1417.10" width="1.00" height="43.80" fill="#191919" shape-rendering="crispEdges"/>
<rect x="1101.00" y="1417.10" width="1.00" height="43.80" fill="#000000" shape-rendering="crispEdges"/>
<rect x="1102.00" y="1417.10" width="2.00" height="43.80" fill="#000000" shape-rendering="crispEdges"/>
<rect x="1104.00" y="1417.10" width="1.00" height="43.80" fill="#191919" shape-rendering="crispEdges"/>
<rect x="1108.00" y="1417.10" width="3.00" height="43.80" fill="#0a0a0a" shape-rendering="crispEdges"/>
<rect x="1114.00" y="1417.10" width="1.00" height="43.80" fill="#969696" shape-rendering="crispEdges"/>
<rect x="1115.00" y="1417.10" width="1.00" height="43.80" fill="#969696" shape-rendering="crispEdges"/>
<rect x="1116.00" y="1417.10" width="1.00" height="43.80" fill="#0a0a0a" shape-rendering="crispEdges"/>
<rect x="1117.00" y="1417.10" width="2.00" height="43.80" fill="#000000" shape-rendering="crispEdges"/>
<rect x="1119.00" y="1417.10" width="3.00" height="43.80" fill="#0a0a0a" shape-rendering="crispEdges"/>
<rect x="1126.00" y="1417.10" width="1.00" height="43.80" fill="#191919" shape-rendering="crispEdges"/>
<rect x="1127.00" y="1417.10" width="1.00" height="43.80" fill="#787878" shape-rendering="crispEdges"/>
<rect x="1128.00" y="1417.10" width="1.00" height="43.80" fill="#5a5a5a" shape-rendering="crispEdges"/>
<rect x="1129.00" y="1417.10" width="2.00" height="43.80" fill="#000000" shape-rendering="crispEdges"/>
<rect x="1131.00" y="1417.10" width="1.00" height="43.80" fill="#0a0a0a" shape-rendering="crispEdges"/>
<rect x="1133.00" y="1417.10" width="1.00" height="43.80" fill="#000000" shape-rendering="crispEdges"/>
<rect x="1134.00" y="1417.10" width="1.00" height="43.80" fill="#787878" shape-rendering="crispEdges"/>
<rect x="1135.00" y="1417.10" width="1.00" height="43.80" fill="#0a0a0a" shape-rendering="crispEdges"/>
<rect x="1139.00" y="1417.10" width="1.00" height="43.80" fill="#000000" shape-rendering="crispEdges"/>
<rect x="1140.00" y="1417.10" width="1.00" height="43.80" fill="#0a0a0a" shape-rendering="crispEdges"/>
<rect x="1141.00" y="1417.10" width="1.00" height="43.80" fill="#0a0a0a" shape-rendering="crispEdges"/>
<rect x="1145.00" y="1417.10" width="1.00" height="43.80" fill="#5a5a5a" shape-rendering="crispEdges"/>
<rect x="1146.00" y="1417.10" width="1.00" height="43.80" fill="#5a5a5a" shape-rendering="crispEdges"/>
<rect x="1149.00" y="1417.10" width="1.00" height="43.80" fill="#000000" shape-rendering="crispEdges"/>
<rect x="1150.00" y="1417.10" width="2.00" height="43.80" fill="#0a0a0a" shape-rendering="crispEdges"/>
<rect x="1153.00" y="1417.10" width="1.00" height="43.80" fill="#787878" shape-rendering="crispEdges"/>
<rect x="1156.00" y="1417.10" width="2.00" height="43.80" fill="#191919" shape-rendering="crispEdges"/>
<rect x="1158.00" y="1417.10" width="1.00" height="43.80" fill="#000000" shape-rendering="crispEdges"/>
<rect x="1160.00" y="1417.10" width="2.00" height="43.80" fill="#0a0a0a" shape-rendering="crispEdges"/>
<rect x="1162.00" y="1417.10" width="1.00" height="43.80" fill="#000000" shape-rendering="crispEdges"/>
<rect x="1167.00" y="1417.10" width="1.00" height="43.80" fill="#000000" shape-rendering="crispEdges"/>
<rect x="1168.00" y="1417.10" width="1.00" height="43.80" fill="#787878" shape-rendering="crispEdges"/>
<rect x="1169.00" y="1417.10" width="1.00" height="43.80" fill="#969696" shape-rendering="crispEdges"/>
<rect x="1170.00" y="1417.10" width="1.00" height="43.80" fill="#787878" shape-rendering="crispEdges"/>
<rect x="1171.00" y="1417.10" width="2.00" height="43.80" fill="#0a0a0a" shape-rendering="crispEdges"/>
<rect x="1176.00" y="1417.10" width="1.00" height="43.80" fill="#aaaaaa" shape-rendering="crispEdges"/>
<rect x="1178.00" y="1417.10" width="1.00" height="43.80" fill="#787878" shape-rendering="crispEdges"/>
<rect x="1179.00" y="1417.10" width="2.00" height="43.80" fill="#000000" shape-rendering="crispEdges"/>
<rect x="1181.00" y="1417.10" width="1.00" height="43.80" fill="#5a5a5a" shape-rendering="crispEdges"/>
<rect x="1182.00" y="1417.10" width="2.00" height="43.80" fill="#191919" shape-rendering="crispEdges"/>
<rect x="1184.00" y="1417.10" width="1.00" height="43.80" fill="#191919" shape-rendering="crispEdges"/>
<rect x="1195.00" y="1417.10" width="2.00" height="43.80" fill="#000000" shape-rendering="crispEdges"/>
<rect x="1198.00" y="1417.10" width="2.00" height="43.80" fill="#000000" shape-rendering="crispEdges"/>
<rect x="1200.00" y="1417.10" width="2.00" height="43.80" fill="#000000" shape-rendering="crispEdges"/>
<rect x="1205.00" y="1417.10" width="1.00" height="43.80" fill="#5a5a5a" shape-rendering="crispEdges"/>
<rect x="1209.00" y="1417.10" width="1.00" height="43.80" fill="#969696" shape-rendering="crispEdges"/>
<rect x="1210.00" y="1417.10" width="1.00" height="43.80" fill="#969696" shape-rendering="crispEdges"/>
<rect x="1211.00" y="1417.10" width="1.00" height="43.80" fill="#969696" shape-rendering="crispEdges"/>
<rect x="1219.00" y="1417.10" width="1.00" height="43.80" fill="#969696" shape-rendering="crispEdges"/>
<rect x="1222.00" y="1417.10" width="1.00" height="43.80" fill="#191919" shape-rendering="crispEdges"/>
<rect x="1227.00" y="1417.10" width="1.00" height="43.80" fill="#000000" shape-rendering="crispEdges"/>
<rect x="1233.00" y="1417.10" width="1.00" height="43.80" fill="#5a5a5a" shape-rendering="crispEdges"/>
<rect x="1234.00" y="1417.10" width="2.00" height="43.80" fill="#191919" shape-rendering="crispEdges"/>
<rect x="1242.00" y="1417.10" width="1.00" height="43.80" fill="#787878" shape-rendering="crispEdges"/>
<rect x="1250.00" y="1417.10" width="1.00" height="43.80" fill="#787878" shape-rendering="crispEdges"/>
<rect x="1251.00" y="1417.10" width="1.00" height="43.80" fill="#000000" shape-rendering="crispEdges"/>
<rect x="1253.00" y="1417.10" width="2.00" height="43.80" fill="#000000" shape-rendering="crispEdges"/>
<rect x="1257.00" y="1417.10" width="1.00" height="43.80" fill="#0a0a0a" shape-rendering="crispEdges"/>
<rect x="1258.00" y="1417.10" width="2.00" height="43.80" fill="#0a0a0a" shape-rendering="crispEdges"/>
<rect x="1260.00" y="1417.10" width="3.00" height="43.80" fill="#000000" shape-rendering="crispEdges"/>
<rect x="1263.00" y="1417.10" width="1.00" height="43.80" fill="#5a5a5a" shape-rendering="crispEdges"/>
<rect x="1264.00" y="1417.10" width="1.00" height="43.80" fill="#000000" shape-rendering="crispEdges"/>
<rect x="1265.00" y="1417.10" width="1.00" height="43.80" fill="#969696" shape-rendering="crispEdges"/>
<rect x="1266.00" y="1417.10" width="1.00" height="43.80" fill="#0a0a0a" shape-rendering="crispEdges"/>
<rect x="1270.00" y="1417.10" width="3.00" height="43.80" fill="#0a0a0a" shape-rendering="crispEdges"/>
<rect x="1273.00" y="1417.10" width="1.00" height="43.80" fill="#aaaaaa" shape-rendering="crispEdges"/>
<rect x="1274.00" y="1417.10" width="1.00" height="43.80" fill="#969696" shape-rendering="crispEdges"/>
<rect x="1275.00" y="1417.10" width="1.00" height="43.80" fill="#5a5a5a" shape-rendering="crispEdges"/>
<rect x="1276.00" y="1417.10" width="1.00" height="43.80" fill="#787878" shape-rendering="crispEdges"/>
<rect x="1277.00" y="1417.10" width="1.00" height="43.80" fill="#aaaaaa" shape-rendering="crispEdges"/>
<rect x="1278.00" y="1417.10" width="2.00" height="43.80" fill="#000000" shape-rendering="crispEdges"/>
<rect x="1280.00" y="1417.10" width="1.00" height="43.80" fill="#5a5a5a" shape-rendering="crispEdges"/>
<rect x="1284.00" y="1417.10" width="2.00" height="43.80" fill="#0a0a0a" shape-rendering="crispEdges"/>
<rect x="1286.00" y="1417.10" width="1.00" height="43.80" fill="#5a5a5a" shape-rendering="crispEdges"/>
<rect x="1287.00" y="1417.10" width="3.00" height="43.80" fill="#191919" shape-rendering="crispEdges"/>
<rect x="1290.00" y="1417.10" width="2.00" height="43.80" fill="#191919" shape-rendering="crispEdges"/>
<rect x="1292.00" y="1417.10" width="3.00" height="43.80" fill="#191919" shape-rendering="crispEdges"/>
<rect x="1295.00" y="1417.10" width="2.00" height="43.80" fill="#000000" shape-rendering="crispEdges"/>
<rect x="1297.00" y="1417.10" width="2.00" height="43.80" fill="#0a0a0a" shape-rendering="crispEdges"/>
<rect x="1301.00" y="1417.10" width="2.00" height="43.80" fill="#0a0a0a" shape-rendering="crispEdges"/>
<rect x="1306.00" y="1417.10" width="1.00" height="43.80" fill="#000000" shape-rendering="crispEdges"/>
<rect x="1307.00" y="1417.10" width="1.00" height="43.80" fill="#aaaaaa" shape-rendering="crispEdges"/>
<rect x="1308.00" y="1417.10" width="1.00" height="43.80" fill="#787878" shape-rendering="crispEdges"/>
<rect x="1311.00" y="1417.10" width="2.00" height="43.80" fill="#0a0a0a" shape-rendering="crispEdges"/>
<rect x="1313.00" y="1417.10" width="3.00" height="43.80" fill="#0a0a0a" shape-rendering="crispEdges"/>
<rect x="1316.00" y="1417.10" width="2.00" height="43.80" fill="#0a0a0a" shape-rendering="crispEdges"/>
<rect x="1320.00" y="1417.10" width="1.00" height="43.80" fill="#969696" shape-rendering="crispEdges"/>
<rect x="1321.00" y="1417.10" width="2.00" height="43.80" fill="#000000" shape-rendering="crispEdges"/>
<rect x="1325.00" y="1417.10" width="1.00" height="43.80" fill="#0a0a0a" shape-rendering="crispEdges"/>
<defs><linearGradient id="cbI" x1="0" x2="1" y1="0" y2="0"><stop offset="0.000" stop-color="#dd4444"/><stop offset="0.180" stop-color="#e65c5c"/><stop offset="0.190" stop-color="#e0707a"/><stop offset="0.360" stop-color="#e8848c"/><stop offset="0.370" stop-color="#e8b2d2"/><stop offset="0.510" stop-color="#efbde0"/><stop offset="0.520" stop-color="#c8c8ee"/><stop offset="0.740" stop-color="#babaf0"/><stop offset="0.750" stop-color="#8080ea"/><stop offset="0.880" stop-color="#5a5ad8"/><stop offset="0.900" stop-color="#3030c8"/><stop offset="1.000" stop-color="#1a1aa0"/></linearGradient></defs>
<rect x="1044.60" y="1461.40" width="281.10" height="12.10" fill="url(#cbI)"/>
<rect x="1044.60" y="1461.40" width="1.00" height="12.10" fill="#fff" fill-opacity="0.09"/>
<rect x="1048.60" y="1461.40" width="1.00" height="12.10" fill="#fff" fill-opacity="0.07"/>
<rect x="1054.10" y="1461.40" width="1.00" height="12.10" fill="#fff" fill-opacity="0.06"/>
<rect x="1055.10" y="1461.40" width="3.00" height="12.10" fill="#000" fill-opacity="0.08"/>
<rect x="1058.10" y="1461.40" width="1.00" height="12.10" fill="#000" fill-opacity="0.06"/>
<rect x="1059.10" y="1461.40" width="2.00" height="12.10" fill="#fff" fill-opacity="0.09"/>
<rect x="1061.10" y="1461.40" width="2.00" height="12.10" fill="#000" fill-opacity="0.06"/>
<rect x="1068.10" y="1461.40" width="2.00" height="12.10" fill="#000" fill-opacity="0.04"/>
<rect x="1070.10" y="1461.40" width="1.50" height="12.10" fill="#fff" fill-opacity="0.07"/>
<rect x="1073.10" y="1461.40" width="1.50" height="12.10" fill="#000" fill-opacity="0.09"/>
<rect x="1081.60" y="1461.40" width="1.00" height="12.10" fill="#000" fill-opacity="0.10"/>
<rect x="1082.60" y="1461.40" width="1.00" height="12.10" fill="#fff" fill-opacity="0.04"/>
<rect x="1088.60" y="1461.40" width="3.00" height="12.10" fill="#fff" fill-opacity="0.09"/>
<rect x="1091.60" y="1461.40" width="2.00" height="12.10" fill="#000" fill-opacity="0.04"/>
<rect x="1100.10" y="1461.40" width="2.00" height="12.10" fill="#000" fill-opacity="0.06"/>
<rect x="1102.10" y="1461.40" width="2.00" height="12.10" fill="#000" fill-opacity="0.03"/>
<rect x="1106.10" y="1461.40" width="3.00" height="12.10" fill="#000" fill-opacity="0.10"/>
<rect x="1112.10" y="1461.40" width="2.00" height="12.10" fill="#000" fill-opacity="0.10"/>
<rect x="1115.10" y="1461.40" width="1.00" height="12.10" fill="#fff" fill-opacity="0.07"/>
<rect x="1116.10" y="1461.40" width="1.50" height="12.10" fill="#fff" fill-opacity="0.04"/>
<rect x="1117.60" y="1461.40" width="1.00" height="12.10" fill="#fff" fill-opacity="0.07"/>
<rect x="1118.60" y="1461.40" width="3.00" height="12.10" fill="#000" fill-opacity="0.07"/>
<rect x="1123.60" y="1461.40" width="1.00" height="12.10" fill="#000" fill-opacity="0.03"/>
<rect x="1126.10" y="1461.40" width="2.00" height="12.10" fill="#000" fill-opacity="0.10"/>
<rect x="1128.10" y="1461.40" width="1.50" height="12.10" fill="#000" fill-opacity="0.05"/>
<rect x="1131.60" y="1461.40" width="1.00" height="12.10" fill="#000" fill-opacity="0.05"/>
<rect x="1134.10" y="1461.40" width="3.00" height="12.10" fill="#fff" fill-opacity="0.10"/>
<rect x="1137.10" y="1461.40" width="3.00" height="12.10" fill="#fff" fill-opacity="0.09"/>
<rect x="1140.10" y="1461.40" width="1.50" height="12.10" fill="#000" fill-opacity="0.08"/>
<rect x="1141.60" y="1461.40" width="3.00" height="12.10" fill="#fff" fill-opacity="0.09"/>
<rect x="1144.60" y="1461.40" width="1.00" height="12.10" fill="#000" fill-opacity="0.09"/>
<rect x="1145.60" y="1461.40" width="1.00" height="12.10" fill="#fff" fill-opacity="0.05"/>
<rect x="1146.60" y="1461.40" width="3.00" height="12.10" fill="#000" fill-opacity="0.10"/>
<rect x="1149.60" y="1461.40" width="1.50" height="12.10" fill="#000" fill-opacity="0.05"/>
<rect x="1151.10" y="1461.40" width="2.00" height="12.10" fill="#fff" fill-opacity="0.05"/>
<rect x="1157.10" y="1461.40" width="1.50" height="12.10" fill="#fff" fill-opacity="0.04"/>
<rect x="1159.60" y="1461.40" width="1.50" height="12.10" fill="#fff" fill-opacity="0.09"/>
<rect x="1161.10" y="1461.40" width="1.50" height="12.10" fill="#000" fill-opacity="0.09"/>
<rect x="1162.60" y="1461.40" width="2.00" height="12.10" fill="#000" fill-opacity="0.06"/>
<rect x="1169.10" y="1461.40" width="2.00" height="12.10" fill="#fff" fill-opacity="0.05"/>
<rect x="1172.10" y="1461.40" width="2.00" height="12.10" fill="#fff" fill-opacity="0.04"/>
<rect x="1175.10" y="1461.40" width="1.50" height="12.10" fill="#fff" fill-opacity="0.08"/>
<rect x="1176.60" y="1461.40" width="2.00" height="12.10" fill="#000" fill-opacity="0.08"/>
<rect x="1178.60" y="1461.40" width="2.00" height="12.10" fill="#fff" fill-opacity="0.05"/>
<rect x="1180.60" y="1461.40" width="3.00" height="12.10" fill="#fff" fill-opacity="0.06"/>
<rect x="1183.60" y="1461.40" width="1.50" height="12.10" fill="#000" fill-opacity="0.08"/>
<rect x="1185.10" y="1461.40" width="3.00" height="12.10" fill="#fff" fill-opacity="0.05"/>
<rect x="1188.10" y="1461.40" width="1.00" height="12.10" fill="#000" fill-opacity="0.08"/>
<rect x="1189.10" y="1461.40" width="1.50" height="12.10" fill="#fff" fill-opacity="0.09"/>
<rect x="1190.60" y="1461.40" width="1.00" height="12.10" fill="#000" fill-opacity="0.07"/>
<rect x="1191.60" y="1461.40" width="2.00" height="12.10" fill="#fff" fill-opacity="0.03"/>
<rect x="1193.60" y="1461.40" width="2.00" height="12.10" fill="#000" fill-opacity="0.07"/>
<rect x="1206.60" y="1461.40" width="1.00" height="12.10" fill="#000" fill-opacity="0.08"/>
<rect x="1212.60" y="1461.40" width="1.50" height="12.10" fill="#fff" fill-opacity="0.09"/>
<rect x="1219.10" y="1461.40" width="3.00" height="12.10" fill="#fff" fill-opacity="0.09"/>
<rect x="1222.10" y="1461.40" width="1.50" height="12.10" fill="#000" fill-opacity="0.06"/>
<rect x="1225.60" y="1461.40" width="2.00" height="12.10" fill="#000" fill-opacity="0.06"/>
<rect x="1227.60" y="1461.40" width="3.00" height="12.10" fill="#fff" fill-opacity="0.04"/>
<rect x="1234.60" y="1461.40" width="1.50" height="12.10" fill="#fff" fill-opacity="0.06"/>
<rect x="1239.10" y="1461.40" width="1.00" height="12.10" fill="#fff" fill-opacity="0.08"/>
<rect x="1241.60" y="1461.40" width="1.50" height="12.10" fill="#000" fill-opacity="0.09"/>
<rect x="1246.10" y="1461.40" width="2.00" height="12.10" fill="#fff" fill-opacity="0.07"/>
<rect x="1254.10" y="1461.40" width="3.00" height="12.10" fill="#fff" fill-opacity="0.08"/>
<rect x="1257.10" y="1461.40" width="2.00" height="12.10" fill="#fff" fill-opacity="0.04"/>
<rect x="1264.10" y="1461.40" width="3.00" height="12.10" fill="#000" fill-opacity="0.06"/>
<rect x="1268.10" y="1461.40" width="2.00" height="12.10" fill="#000" fill-opacity="0.03"/>
<rect x="1279.10" y="1461.40" width="3.00" height="12.10" fill="#000" fill-opacity="0.05"/>
<rect x="1282.10" y="1461.40" width="1.50" height="12.10" fill="#000" fill-opacity="0.06"/>
<rect x="1291.60" y="1461.40" width="2.00" height="12.10" fill="#fff" fill-opacity="0.07"/>
<rect x="1293.60" y="1461.40" width="3.00" height="12.10" fill="#fff" fill-opacity="0.06"/>
<rect x="1296.60" y="1461.40" width="1.50" height="12.10" fill="#fff" fill-opacity="0.10"/>
<rect x="1301.10" y="1461.40" width="3.00" height="12.10" fill="#000" fill-opacity="0.09"/>
<rect x="1305.10" y="1461.40" width="2.00" height="12.10" fill="#000" fill-opacity="0.09"/>
<rect x="1307.10" y="1461.40" width="2.00" height="12.10" fill="#fff" fill-opacity="0.04"/>
<rect x="1320.60" y="1461.40" width="2.00" height="12.10" fill="#fff" fill-opacity="0.10"/>
<rect x="1322.60" y="1461.40" width="1.00" height="12.10" fill="#fff" fill-opacity="0.05"/>
<rect x="1323.60" y="1461.40" width="1.00" height="12.10" fill="#fff" fill-opacity="0.09"/>
<rect x="1324.60" y="1461.40" width="1.10" height="12.10" fill="#fff" fill-opacity="0.08"/>
<rect x="1044.60" y="1280.00" width="296.30" height="193.50" fill="none" stroke="#d0d0d0" stroke-width="1.5"/>
<line x1="1044.60" y1="1415.90" x2="1340.90" y2="1415.90" stroke="#c4c4c4" stroke-width="1.3"/>
<line x1="1044.60" y1="1461.40" x2="1340.90" y2="1461.40" stroke="#c4c4c4" stroke-width="1.3"/>
<line x1="1042.10" y1="1282.94" x2="1044.60" y2="1282.94" stroke="#555" stroke-width="1"/>
<line x1="1042.10" y1="1296.46" x2="1044.60" y2="1296.46" stroke="#555" stroke-width="1"/>
<line x1="1042.10" y1="1309.98" x2="1044.60" y2="1309.98" stroke="#555" stroke-width="1"/>
<line x1="1042.10" y1="1323.50" x2="1044.60" y2="1323.50" stroke="#555" stroke-width="1"/>
<line x1="1042.10" y1="1337.02" x2="1044.60" y2="1337.02" stroke="#555" stroke-width="1"/>
<line x1="1042.10" y1="1350.54" x2="1044.60" y2="1350.54" stroke="#555" stroke-width="1"/>
<line x1="1042.10" y1="1364.06" x2="1044.60" y2="1364.06" stroke="#555" stroke-width="1"/>
<line x1="1042.10" y1="1377.58" x2="1044.60" y2="1377.58" stroke="#555" stroke-width="1"/>
<line x1="1042.10" y1="1391.10" x2="1044.60" y2="1391.10" stroke="#555" stroke-width="1"/>
<line x1="1042.10" y1="1404.62" x2="1044.60" y2="1404.62" stroke="#555" stroke-width="1"/>
<text x="1040.70" y="1289.24" font-size="14.8" text-anchor="end">0.40</text>
<text x="1040.70" y="1316.28" font-size="14.8" text-anchor="end">0.30</text>
<text x="1040.70" y="1343.32" font-size="14.8" text-anchor="end">0.20</text>
<text x="1040.70" y="1370.36" font-size="14.8" text-anchor="end">0.10</text>
<text x="1040.70" y="1397.40" font-size="14.8" text-anchor="end">0.00</text>
<text x="1040.70" y="1410.92" font-size="14.8" text-anchor="end">-0.05</text>
<polyline points="1044.61,1382.74 1045.22,1365.20 1046.12,1347.36 1047.03,1338.19 1047.64,1332.84 1049.76,1330.33 1052.19,1330.03 1053.71,1325.26 1055.22,1321.79 1056.74,1320.33 1058.25,1323.02 1059.77,1317.36 1061.29,1306.07 1062.80,1304.80 1064.32,1305.43 1065.83,1306.80 1067.35,1307.86 1068.87,1309.14 1070.38,1310.20 1071.90,1301.50 1074.02,1302.01 1076.45,1300.95 1077.96,1299.69 1079.48,1298.67 1080.99,1299.04 1082.51,1297.41 1084.03,1296.31 1085.54,1295.56 1087.06,1295.85 1088.57,1294.75 1090.09,1295.80 1091.61,1296.45 1093.12,1293.14 1094.64,1290.72 1096.16,1289.89 1097.67,1290.13 1099.19,1290.52 1100.70,1290.23 1102.22,1290.26 1103.74,1289.56 1105.25,1289.29 1106.77,1287.91 1108.28,1287.71 1109.80,1287.34 1111.32,1286.74 1112.83,1286.65 1114.35,1286.77 1115.86,1287.32 1117.38,1288.28 1118.90,1288.36 1120.41,1288.36 1121.93,1288.14 1123.44,1288.22 1124.96,1289.16 1126.48,1289.06 1127.99,1289.30 1129.51,1289.15 1131.02,1290.38 1132.54,1290.09 1134.06,1290.90 1135.57,1292.26 1137.09,1292.28 1138.61,1292.67 1140.12,1293.35 1141.64,1294.33 1143.15,1295.00 1144.67,1294.99 1146.19,1295.47 1147.70,1296.62 1149.22,1297.32 1150.73,1297.99 1152.25,1299.78 1153.77,1300.71 1155.28,1300.96 1156.80,1302.47 1158.31,1303.13 1159.83,1304.89 1161.35,1305.35 1162.86,1306.17 1164.38,1307.23 1165.89,1308.76 1167.41,1309.44 1168.93,1311.22 1170.44,1312.99 1171.96,1313.63 1173.47,1314.71 1174.99,1317.14 1176.51,1317.85 1178.02,1318.66 1179.54,1319.99 1181.06,1321.47 1182.57,1323.59 1184.09,1325.34 1185.60,1326.34 1187.12,1327.35 1188.64,1329.31 1190.15,1331.69 1191.67,1332.55 1193.18,1334.69 1194.70,1336.05 1196.22,1336.37 1197.73,1338.88 1199.25,1340.16 1200.76,1341.29 1202.28,1342.25 1203.80,1344.11 1205.31,1344.70 1206.83,1346.55 1208.34,1347.97 1209.86,1350.07 1211.38,1351.35 1212.89,1351.89 1214.41,1353.62 1215.92,1354.56 1217.44,1356.98 1218.96,1358.32 1220.47,1358.91 1221.99,1360.72 1223.51,1362.01 1225.02,1362.71 1226.54,1364.90 1228.05,1365.92 1229.57,1367.47 1231.09,1368.33 1232.60,1368.80 1234.12,1370.47 1235.63,1371.26 1237.15,1373.74 1238.67,1374.88 1240.18,1376.03 1241.70,1376.51 1243.21,1377.37 1244.73,1379.61 1246.25,1380.80 1247.76,1380.69 1249.28,1382.34 1250.79,1382.85 1252.31,1384.85 1253.83,1385.88 1255.34,1386.02 1256.86,1387.54 1258.37,1388.67 1259.89,1388.88 1261.41,1390.34 1262.92,1390.32 1264.44,1390.63 1265.96,1391.69 1267.47,1392.57 1268.99,1392.43 1270.50,1393.19 1272.02,1394.76 1273.54,1394.88 1275.05,1395.49 1276.57,1396.51 1278.08,1396.87 1279.60,1397.92 1281.12,1398.99 1282.63,1400.25 1284.15,1400.66 1285.66,1401.55 1287.18,1402.26 1288.70,1403.95 1290.21,1404.14 1291.73,1405.85 1293.24,1406.54 1294.76,1406.20 1296.28,1407.19 1297.79,1408.55 1299.31,1408.67 1300.82,1409.32 1302.34,1409.38 1303.86,1407.81 1305.37,1406.46 1306.89,1405.68 1308.41,1405.51 1309.92,1404.44 1311.44,1404.11 1312.95,1403.77 1314.47,1402.95 1315.99,1402.20 1317.50,1401.81 1319.02,1400.98 1320.53,1399.14 1322.05,1395.62 1323.57,1393.02 1325.08,1390.12" fill="none" stroke="#66ee44" stroke-width="2.3" stroke-linejoin="round"/>
<text x="1184.00" y="1240.00" font-size="19.5" text-anchor="middle">Enrichment Plot:</text>
<text x="1184.20" y="1265.20" font-size="19.5" text-anchor="middle">Fetal UP (Mustata et al.)</text>
<text x="1203.20" y="1297.60" font-size="20.9" fill="#e0103a">NES:1.42</text>
<text x="1203.20" y="1318.00" font-size="20.9" fill="#e0103a">p-value: 0.003</text>
<text x="991.20" y="1361.40" font-size="21" text-anchor="middle" transform="rotate(-90 991.20 1361.40)">Enrichment Score (ES)</text>
<text x="1041.60" y="1488.70" font-size="14.9" fill="#e0401c">T positive correlated</text>
<text x="1187.10" y="1488.70" font-size="14.9" fill="#2a2ae6">C negative correlated</text>
<text x="947.60" y="1221.40" font-size="37">I</text>
<text x="0.80" y="1583.90" font-size="37">J</text>
<text x="257.60" y="1615.10" font-size="23.5" text-anchor="middle">Fetal ISC genes</text>
<line x1="111.50" y1="1884.47" x2="111.50" y2="1883.61" stroke="#000" stroke-width="1.7"/>
<line x1="109.00" y1="1883.61" x2="114.00" y2="1883.61" stroke="#000" stroke-width="2"/>
<line x1="134.00" y1="1732.01" x2="134.00" y2="1692.96" stroke="#000" stroke-width="1.7"/>
<line x1="130.75" y1="1692.96" x2="137.25" y2="1692.96" stroke="#000" stroke-width="2"/>
<line x1="156.10" y1="1802.76" x2="156.10" y2="1774.84" stroke="#000" stroke-width="1.7"/>
<line x1="152.85" y1="1774.84" x2="159.35" y2="1774.84" stroke="#000" stroke-width="2"/>
<rect x="104.35" y="1884.47" width="14.30" height="17.13" fill="#606060"/>
<rect x="126.85" y="1732.01" width="14.30" height="169.59" fill="#9f9ea3"/>
<rect x="148.80" y="1802.76" width="14.60" height="98.84" fill="#d5d5d5"/>
<circle cx="109.50" cy="1885.33" r="1.80" fill="#000"/>
<circle cx="112.50" cy="1884.47" r="1.80" fill="#000"/>
<circle cx="113.50" cy="1884.81" r="1.80" fill="#000"/>
<rect x="132.40" y="1703.01" width="3.20" height="3.20" fill="#000"/>
<rect x="132.40" y="1757.82" width="3.20" height="3.20" fill="#000"/>
<polyline points="156.10,1798.44 154.01,1802.05 158.19,1802.05" fill="#000" stroke="none" stroke-width="1"/>
<polyline points="156.10,1829.28 154.01,1832.89 158.19,1832.89" fill="#000" stroke="none" stroke-width="1"/>
<line x1="133.40" y1="1901.60" x2="133.40" y2="1910.30" stroke="#000" stroke-width="2"/>
<line x1="193.00" y1="1884.47" x2="193.00" y2="1882.41" stroke="#000" stroke-width="1.7"/>
<line x1="190.50" y1="1882.41" x2="195.50" y2="1882.41" stroke="#000" stroke-width="2"/>
<line x1="215.50" y1="1750.34" x2="215.50" y2="1744.86" stroke="#000" stroke-width="1.7"/>
<line x1="212.25" y1="1744.86" x2="218.75" y2="1744.86" stroke="#000" stroke-width="2"/>
<line x1="237.60" y1="1875.56" x2="237.60" y2="1861.34" stroke="#000" stroke-width="1.7"/>
<line x1="234.35" y1="1861.34" x2="240.85" y2="1861.34" stroke="#000" stroke-width="2"/>
<rect x="185.85" y="1884.47" width="14.30" height="17.13" fill="#606060"/>
<rect x="208.35" y="1750.34" width="14.30" height="151.26" fill="#9f9ea3"/>
<rect x="230.30" y="1875.56" width="14.60" height="26.04" fill="#d5d5d5"/>
<circle cx="191.00" cy="1886.18" r="1.80" fill="#000"/>
<circle cx="193.00" cy="1882.76" r="1.80" fill="#000"/>
<circle cx="194.00" cy="1883.61" r="1.80" fill="#000"/>
<rect x="213.90" y="1744.12" width="3.20" height="3.20" fill="#000"/>
<rect x="213.90" y="1752.68" width="3.20" height="3.20" fill="#000"/>
<polyline points="234.60,1883.24 232.51,1886.85 236.69,1886.85" fill="#000" stroke="none" stroke-width="1"/>
<polyline points="240.60,1878.10 238.51,1881.71 242.69,1881.71" fill="#000" stroke="none" stroke-width="1"/>
<polyline points="237.60,1860.11 235.51,1863.72 239.69,1863.72" fill="#000" stroke="none" stroke-width="1"/>
<line x1="214.90" y1="1901.60" x2="214.90" y2="1910.30" stroke="#000" stroke-width="2"/>
<line x1="274.20" y1="1884.47" x2="274.20" y2="1884.13" stroke="#000" stroke-width="1.7"/>
<line x1="271.70" y1="1884.13" x2="276.70" y2="1884.13" stroke="#000" stroke-width="2"/>
<line x1="296.70" y1="1802.76" x2="296.70" y2="1791.63" stroke="#000" stroke-width="1.7"/>
<line x1="293.45" y1="1791.63" x2="299.95" y2="1791.63" stroke="#000" stroke-width="2"/>
<line x1="318.80" y1="1822.97" x2="318.80" y2="1822.46" stroke="#000" stroke-width="1.7"/>
<line x1="315.55" y1="1822.46" x2="322.05" y2="1822.46" stroke="#000" stroke-width="2"/>
<rect x="267.05" y="1884.47" width="14.30" height="17.13" fill="#606060"/>
<rect x="289.55" y="1802.76" width="14.30" height="98.84" fill="#9f9ea3"/>
<rect x="311.50" y="1822.97" width="14.60" height="78.63" fill="#d5d5d5"/>
<circle cx="272.20" cy="1884.98" r="1.80" fill="#000"/>
<circle cx="274.20" cy="1884.47" r="1.80" fill="#000"/>
<circle cx="276.20" cy="1884.47" r="1.80" fill="#000"/>
<rect x="295.10" y="1792.08" width="3.20" height="3.20" fill="#000"/>
<rect x="295.10" y="1809.21" width="3.20" height="3.20" fill="#000"/>
<polyline points="315.80,1820.37 313.71,1823.98 317.89,1823.98" fill="#000" stroke="none" stroke-width="1"/>
<polyline points="318.80,1820.37 316.71,1823.98 320.89,1823.98" fill="#000" stroke="none" stroke-width="1"/>
<polyline points="321.80,1820.37 319.71,1823.98 323.89,1823.98" fill="#000" stroke="none" stroke-width="1"/>
<line x1="296.10" y1="1901.60" x2="296.10" y2="1910.30" stroke="#000" stroke-width="2"/>
<line x1="355.60" y1="1884.47" x2="355.60" y2="1881.90" stroke="#000" stroke-width="1.7"/>
<line x1="353.10" y1="1881.90" x2="358.10" y2="1881.90" stroke="#000" stroke-width="2"/>
<line x1="378.10" y1="1736.30" x2="378.10" y2="1714.88" stroke="#000" stroke-width="1.7"/>
<line x1="374.85" y1="1714.88" x2="381.35" y2="1714.88" stroke="#000" stroke-width="2"/>
<line x1="400.20" y1="1746.23" x2="400.20" y2="1724.13" stroke="#000" stroke-width="1.7"/>
<line x1="396.95" y1="1724.13" x2="403.45" y2="1724.13" stroke="#000" stroke-width="2"/>
<rect x="348.45" y="1884.47" width="14.30" height="17.13" fill="#606060"/>
<rect x="370.95" y="1736.30" width="14.30" height="165.30" fill="#9f9ea3"/>
<rect x="392.90" y="1746.23" width="14.60" height="155.37" fill="#d5d5d5"/>
<circle cx="353.60" cy="1887.04" r="1.80" fill="#000"/>
<circle cx="355.60" cy="1882.76" r="1.80" fill="#000"/>
<circle cx="356.60" cy="1882.41" r="1.80" fill="#000"/>
<rect x="376.50" y="1735.55" width="3.20" height="3.20" fill="#000"/>
<rect x="376.50" y="1756.11" width="3.20" height="3.20" fill="#000"/>
<polyline points="400.20,1723.07 398.11,1726.68 402.29,1726.68" fill="#000" stroke="none" stroke-width="1"/>
<polyline points="400.20,1766.75 398.11,1770.36 402.29,1770.36" fill="#000" stroke="none" stroke-width="1"/>
<line x1="377.50" y1="1901.60" x2="377.50" y2="1910.30" stroke="#000" stroke-width="2"/>
<path d="M111.30 1872.00 V1674.10 H133.40 V1687.50" fill="none" stroke="#000" stroke-width="1.8"/>
<text x="123.30" y="1676.30" font-size="20.5" text-anchor="middle">****</text>
<path d="M133.40 1654.80 V1647.70 H155.50 V1764.10" fill="none" stroke="#000" stroke-width="1.8"/>
<text x="145.40" y="1647.80" font-size="20.5" text-anchor="middle">***</text>
<path d="M193.00 1870.00 V1723.80 H215.70 V1737.10" fill="none" stroke="#000" stroke-width="1.8"/>
<text x="200.40" y="1725.10" font-size="20.5" text-anchor="middle">****</text>
<path d="M215.70 1704.50 V1697.40 H237.90 V1846.40" fill="none" stroke="#000" stroke-width="1.8"/>
<text x="233.90" y="1696.80" font-size="20.5" text-anchor="middle">****</text>
<path d="M274.80 1870.60 V1771.20 H297.50 V1784.00" fill="none" stroke="#000" stroke-width="1.8"/>
<text x="285.20" y="1772.80" font-size="20.5" text-anchor="middle">****</text>
<path d="M297.50 1751.30 V1744.80 H318.50 V1808.10" fill="none" stroke="#000" stroke-width="1.8"/>
<text x="310.80" y="1738.50" font-size="20.5" text-anchor="middle">n.s.</text>
<path d="M355.40 1870.60 V1695.40 H378.90 V1707.30" fill="none" stroke="#000" stroke-width="1.8"/>
<text x="367.30" y="1696.80" font-size="20.5" text-anchor="middle">****</text>
<path d="M378.90 1674.70 V1667.60 H401.10 V1713.00" fill="none" stroke="#000" stroke-width="1.8"/>
<text x="392.80" y="1661.90" font-size="20.5" text-anchor="middle">n.s.</text>
<line x1="93.10" y1="1644.00" x2="93.10" y2="1902.60" stroke="#000" stroke-width="2"/>
<line x1="84.60" y1="1901.60" x2="418.70" y2="1901.60" stroke="#000" stroke-width="2"/>
<line x1="84.60" y1="1901.60" x2="93.10" y2="1901.60" stroke="#000" stroke-width="2"/>
<text x="80.20" y="1908.30" font-size="21.5" text-anchor="end">0</text>
<line x1="84.60" y1="1815.95" x2="93.10" y2="1815.95" stroke="#000" stroke-width="2"/>
<text x="80.20" y="1822.65" font-size="21.5" text-anchor="end">5</text>
<line x1="84.60" y1="1730.30" x2="93.10" y2="1730.30" stroke="#000" stroke-width="2"/>
<text x="80.20" y="1737.00" font-size="21.5" text-anchor="end">10</text>
<line x1="84.60" y1="1644.65" x2="93.10" y2="1644.65" stroke="#000" stroke-width="2"/>
<text x="80.20" y="1651.35" font-size="21.5" text-anchor="end">15</text>
<text x="39.00" y="1786.00" font-size="25" text-anchor="middle" transform="rotate(-90 39.00 1786.00)">Relative mRNA levels</text>
<text x="145.20" y="1927.20" font-size="21" text-anchor="end" transform="rotate(-45 145.20 1927.20)">TUBB6</text>
<text x="223.30" y="1928.00" font-size="21" text-anchor="end" transform="rotate(-45 223.30 1928.00)">ICAM1</text>
<text x="304.50" y="1927.00" font-size="21" text-anchor="end" transform="rotate(-45 304.50 1927.00)">GPC1</text>
<text x="384.70" y="1924.80" font-size="21" text-anchor="end" transform="rotate(-45 384.70 1924.80)">COL18A1</text>
<text x="659.80" y="1612.80" font-size="23.5" text-anchor="middle">EMT genes</text>
<line x1="580.70" y1="1747.09" x2="580.70" y2="1681.14" stroke="#000" stroke-width="1.7"/>
<line x1="577.45" y1="1681.14" x2="583.95" y2="1681.14" stroke="#000" stroke-width="2"/>
<line x1="608.40" y1="1860.33" x2="608.40" y2="1847.17" stroke="#000" stroke-width="1.7"/>
<line x1="605.15" y1="1847.17" x2="611.65" y2="1847.17" stroke="#000" stroke-width="2"/>
<rect x="543.90" y="1893.63" width="18.40" height="1.67" fill="#606060"/>
<rect x="571.50" y="1747.09" width="18.40" height="148.21" fill="#9f9ea3"/>
<rect x="599.30" y="1860.33" width="18.20" height="34.97" fill="#d5d5d5"/>
<circle cx="549.10" cy="1893.13" r="1.80" fill="#000"/>
<circle cx="553.10" cy="1893.13" r="1.80" fill="#000"/>
<circle cx="557.10" cy="1893.13" r="1.80" fill="#000"/>
<circle cx="560.10" cy="1892.30" r="1.80" fill="#000"/>
<rect x="579.10" y="1700.53" width="3.20" height="3.20" fill="#000"/>
<rect x="579.10" y="1792.12" width="3.20" height="3.20" fill="#000"/>
<polyline points="608.40,1838.26 606.31,1841.87 610.49,1841.87" fill="#000" stroke="none" stroke-width="1"/>
<polyline points="606.40,1853.24 604.31,1856.85 608.49,1856.85" fill="#000" stroke="none" stroke-width="1"/>
<polyline points="610.40,1851.58 608.31,1855.19 612.49,1855.19" fill="#000" stroke="none" stroke-width="1"/>
<polyline points="605.40,1861.57 603.31,1865.18 607.49,1865.18" fill="#000" stroke="none" stroke-width="1"/>
<polyline points="611.40,1861.57 609.31,1865.18 613.49,1865.18" fill="#000" stroke="none" stroke-width="1"/>
<polyline points="608.40,1876.56 606.31,1880.17 610.49,1880.17" fill="#000" stroke="none" stroke-width="1"/>
<line x1="580.40" y1="1895.30" x2="580.40" y2="1904.00" stroke="#000" stroke-width="2"/>
<line x1="681.30" y1="1801.04" x2="681.30" y2="1766.24" stroke="#000" stroke-width="1.7"/>
<line x1="678.05" y1="1766.24" x2="684.55" y2="1766.24" stroke="#000" stroke-width="2"/>
<line x1="709.00" y1="1863.66" x2="709.00" y2="1856.17" stroke="#000" stroke-width="1.7"/>
<line x1="705.75" y1="1856.17" x2="712.25" y2="1856.17" stroke="#000" stroke-width="2"/>
<rect x="644.50" y="1893.63" width="18.40" height="1.67" fill="#606060"/>
<rect x="672.10" y="1801.04" width="18.40" height="94.26" fill="#9f9ea3"/>
<rect x="699.90" y="1863.66" width="18.20" height="31.64" fill="#d5d5d5"/>
<circle cx="650.70" cy="1893.13" r="1.80" fill="#000"/>
<circle cx="653.70" cy="1893.13" r="1.80" fill="#000"/>
<circle cx="656.70" cy="1893.13" r="1.80" fill="#000"/>
<rect x="679.70" y="1762.14" width="3.20" height="3.20" fill="#000"/>
<rect x="679.70" y="1807.10" width="3.20" height="3.20" fill="#000"/>
<rect x="679.70" y="1828.75" width="3.20" height="3.20" fill="#000"/>
<polyline points="709.00,1853.24 706.91,1856.85 711.09,1856.85" fill="#000" stroke="none" stroke-width="1"/>
<polyline points="707.00,1856.57 704.91,1860.18 709.09,1860.18" fill="#000" stroke="none" stroke-width="1"/>
<polyline points="711.00,1858.24 708.91,1861.85 713.09,1861.85" fill="#000" stroke="none" stroke-width="1"/>
<polyline points="706.00,1869.90 703.91,1873.51 708.09,1873.51" fill="#000" stroke="none" stroke-width="1"/>
<polyline points="712.00,1868.23 709.91,1871.84 714.09,1871.84" fill="#000" stroke="none" stroke-width="1"/>
<line x1="681.00" y1="1895.30" x2="681.00" y2="1904.00" stroke="#000" stroke-width="2"/>
<line x1="782.20" y1="1797.38" x2="782.20" y2="1792.88" stroke="#000" stroke-width="1.7"/>
<line x1="778.95" y1="1792.88" x2="785.45" y2="1792.88" stroke="#000" stroke-width="2"/>
<line x1="809.90" y1="1875.32" x2="809.90" y2="1865.66" stroke="#000" stroke-width="1.7"/>
<line x1="806.65" y1="1865.66" x2="813.15" y2="1865.66" stroke="#000" stroke-width="2"/>
<rect x="745.40" y="1893.63" width="18.40" height="1.67" fill="#606060"/>
<rect x="773.00" y="1797.38" width="18.40" height="97.92" fill="#9f9ea3"/>
<rect x="800.80" y="1875.32" width="18.20" height="19.98" fill="#d5d5d5"/>
<circle cx="750.60" cy="1893.13" r="1.80" fill="#000"/>
<circle cx="754.60" cy="1893.13" r="1.80" fill="#000"/>
<circle cx="758.60" cy="1893.13" r="1.80" fill="#000"/>
<circle cx="761.60" cy="1892.14" r="1.80" fill="#000"/>
<rect x="780.60" y="1794.61" width="3.20" height="3.20" fill="#000"/>
<rect x="780.60" y="1792.95" width="3.20" height="3.20" fill="#000"/>
<polyline points="809.90,1861.57 807.81,1865.18 811.99,1865.18" fill="#000" stroke="none" stroke-width="1"/>
<polyline points="807.90,1869.90 805.81,1873.51 809.99,1873.51" fill="#000" stroke="none" stroke-width="1"/>
<polyline points="811.90,1871.56 809.81,1875.17 813.99,1875.17" fill="#000" stroke="none" stroke-width="1"/>
<polyline points="806.90,1881.55 804.81,1885.16 808.99,1885.16" fill="#000" stroke="none" stroke-width="1"/>
<polyline points="812.90,1881.55 810.81,1885.16 814.99,1885.16" fill="#000" stroke="none" stroke-width="1"/>
<line x1="781.90" y1="1895.30" x2="781.90" y2="1904.00" stroke="#000" stroke-width="2"/>
<path d="M552.20 1880.50 V1661.50 H581.00 V1672.80" fill="none" stroke="#000" stroke-width="1.8"/>
<text x="567.30" y="1663.40" font-size="20.5" text-anchor="middle">****</text>
<path d="M581.00 1640.10 V1632.70 H608.30 V1825.60" fill="none" stroke="#000" stroke-width="1.8"/>
<text x="595.40" y="1634.30" font-size="20.5" text-anchor="middle">****</text>
<path d="M653.10 1880.50 V1742.50 H682.70 V1755.80" fill="none" stroke="#000" stroke-width="1.8"/>
<text x="668.20" y="1744.20" font-size="20.5" text-anchor="middle">****</text>
<path d="M682.70 1723.20 V1715.20 H709.40 V1843.40" fill="none" stroke="#000" stroke-width="1.8"/>
<text x="697.90" y="1716.80" font-size="20.5" text-anchor="middle">****</text>
<path d="M754.50 1880.50 V1774.50 H783.30 V1787.00" fill="none" stroke="#000" stroke-width="1.8"/>
<text x="766.00" y="1776.20" font-size="20.5" text-anchor="middle">****</text>
<path d="M783.30 1755.80 V1747.50 H810.30 V1846.40" fill="none" stroke="#000" stroke-width="1.8"/>
<text x="796.90" y="1748.60" font-size="20.5" text-anchor="middle">****</text>
<line x1="529.90" y1="1644.50" x2="529.90" y2="1896.30" stroke="#000" stroke-width="2"/>
<line x1="521.60" y1="1895.30" x2="833.20" y2="1895.30" stroke="#000" stroke-width="2"/>
<line x1="521.60" y1="1895.30" x2="529.90" y2="1895.30" stroke="#000" stroke-width="2"/>
<text x="519.80" y="1902.00" font-size="21.5" text-anchor="end">0</text>
<line x1="521.60" y1="1853.67" x2="529.90" y2="1853.67" stroke="#000" stroke-width="2"/>
<text x="519.80" y="1860.37" font-size="21.5" text-anchor="end">25</text>
<line x1="521.60" y1="1812.03" x2="529.90" y2="1812.03" stroke="#000" stroke-width="2"/>
<text x="519.80" y="1818.73" font-size="21.5" text-anchor="end">50</text>
<line x1="521.60" y1="1770.40" x2="529.90" y2="1770.40" stroke="#000" stroke-width="2"/>
<text x="519.80" y="1777.10" font-size="21.5" text-anchor="end">75</text>
<line x1="521.60" y1="1728.77" x2="529.90" y2="1728.77" stroke="#000" stroke-width="2"/>
<text x="519.80" y="1735.47" font-size="21.5" text-anchor="end">100</text>
<line x1="521.60" y1="1687.14" x2="529.90" y2="1687.14" stroke="#000" stroke-width="2"/>
<text x="519.80" y="1693.84" font-size="21.5" text-anchor="end">125</text>
<line x1="521.60" y1="1645.50" x2="529.90" y2="1645.50" stroke="#000" stroke-width="2"/>
<text x="519.80" y="1652.20" font-size="21.5" text-anchor="end">150</text>
<text x="477.50" y="1781.80" font-size="25" text-anchor="middle" transform="rotate(-90 477.50 1781.80)">Relative mRNA levels</text>
<text x="588.40" y="1917.60" font-size="21" text-anchor="end" transform="rotate(-45 588.40 1917.60)">SERPINE1</text>
<text x="688.60" y="1918.50" font-size="21" text-anchor="end" transform="rotate(-45 688.60 1918.50)">THBS1</text>
<text x="792.10" y="1916.50" font-size="21" text-anchor="end" transform="rotate(-45 792.10 1916.50)">SNAI2</text>
<rect x="745.10" y="1636.80" width="20.90" height="10.20" fill="#626262"/>
<rect x="745.10" y="1656.20" width="20.90" height="10.60" fill="#808080"/>
<rect x="745.10" y="1675.60" width="20.90" height="10.20" fill="#d4d4d4"/>
<text x="772.10" y="1649.20" font-size="20.8">Untreated</text>
<text x="772.10" y="1669.00" font-size="20.8">IC20 GFP+</text>
<text x="772.10" y="1688.90" font-size="20.8">IC20 GFP-</text>
</svg></body></html>
